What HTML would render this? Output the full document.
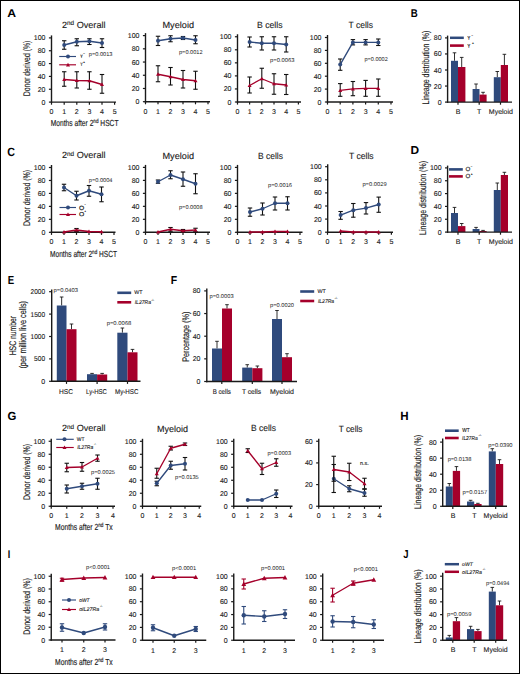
<!DOCTYPE html>
<html><head><meta charset="utf-8"><title>Figure</title>
<style>html,body{margin:0;padding:0;background:#fff;} svg{display:block;} text:not([stroke]):not([font-weight]){stroke:#1a1a1a;stroke-width:0.12px;}</style>
</head><body>
<svg width="520" height="674" viewBox="0 0 520 674" font-family='"Liberation Sans", sans-serif' text-rendering="geometricPrecision">
<rect x="0" y="0" width="520" height="674" fill="#fff"/>
<text transform="translate(7.35,16.65) scale(1.078,1)" font-size="11.34" font-weight="bold" fill="#000">A</text>
<text transform="translate(410.70,16.65) scale(0.853,1)" font-size="11.34" font-weight="bold" fill="#000">B</text>
<text transform="translate(7.21,156.03) scale(0.892,1)" font-size="12.01" font-weight="bold" fill="#000">C</text>
<text transform="translate(410.55,153.55) scale(1.037,1)" font-size="11.48" font-weight="bold" fill="#000">D</text>
<text transform="translate(7.71,283.65) scale(0.828,1)" font-size="11.63" font-weight="bold" fill="#000">E</text>
<text transform="translate(170.65,283.65) scale(0.910,1)" font-size="11.48" font-weight="bold" fill="#000">F</text>
<text transform="translate(7.38,420.34) scale(0.973,1)" font-size="11.72" font-weight="bold" fill="#000">G</text>
<text transform="translate(400.28,420.35) scale(0.970,1)" font-size="11.92" font-weight="bold" fill="#000">H</text>
<text transform="translate(7.75,557.55) scale(0.806,1)" font-size="11.19" font-weight="bold" fill="#000">I</text>
<text transform="translate(403.21,557.74) scale(0.830,1)" font-size="11.47" font-weight="bold" fill="#000">J</text>
<line x1="51.50" y1="102.80" x2="51.50" y2="35.40" stroke="#1a1a1a" stroke-width="1.4" stroke-linecap="butt"/>
<line x1="48.90" y1="102.10" x2="51.50" y2="102.10" stroke="#1a1a1a" stroke-width="1.2" stroke-linecap="butt"/>
<text x="45.50" y="104.60" font-size="7" text-anchor="end" fill="#1a1a1a">0</text>
<line x1="48.90" y1="89.26" x2="51.50" y2="89.26" stroke="#1a1a1a" stroke-width="1.2" stroke-linecap="butt"/>
<text x="45.50" y="91.76" font-size="7" text-anchor="end" fill="#1a1a1a">20</text>
<line x1="48.90" y1="76.42" x2="51.50" y2="76.42" stroke="#1a1a1a" stroke-width="1.2" stroke-linecap="butt"/>
<text x="45.50" y="78.92" font-size="7" text-anchor="end" fill="#1a1a1a">40</text>
<line x1="48.90" y1="63.58" x2="51.50" y2="63.58" stroke="#1a1a1a" stroke-width="1.2" stroke-linecap="butt"/>
<text x="45.50" y="66.08" font-size="7" text-anchor="end" fill="#1a1a1a">60</text>
<line x1="48.90" y1="50.74" x2="51.50" y2="50.74" stroke="#1a1a1a" stroke-width="1.2" stroke-linecap="butt"/>
<text x="45.50" y="53.24" font-size="7" text-anchor="end" fill="#1a1a1a">80</text>
<line x1="48.90" y1="37.90" x2="51.50" y2="37.90" stroke="#1a1a1a" stroke-width="1.2" stroke-linecap="butt"/>
<text x="45.50" y="40.40" font-size="7" text-anchor="end" fill="#1a1a1a">100</text>
<line x1="50.80" y1="102.10" x2="116.00" y2="102.10" stroke="#1a1a1a" stroke-width="1.4" stroke-linecap="butt"/>
<line x1="51.50" y1="102.10" x2="51.50" y2="104.70" stroke="#1a1a1a" stroke-width="1.2" stroke-linecap="butt"/>
<text x="51.50" y="114.00" font-size="7" text-anchor="middle" fill="#1a1a1a">0</text>
<line x1="64.20" y1="102.10" x2="64.20" y2="104.70" stroke="#1a1a1a" stroke-width="1.2" stroke-linecap="butt"/>
<text x="64.20" y="114.00" font-size="7" text-anchor="middle" fill="#1a1a1a">1</text>
<line x1="76.80" y1="102.10" x2="76.80" y2="104.70" stroke="#1a1a1a" stroke-width="1.2" stroke-linecap="butt"/>
<text x="76.80" y="114.00" font-size="7" text-anchor="middle" fill="#1a1a1a">2</text>
<line x1="89.40" y1="102.10" x2="89.40" y2="104.70" stroke="#1a1a1a" stroke-width="1.2" stroke-linecap="butt"/>
<text x="89.40" y="114.00" font-size="7" text-anchor="middle" fill="#1a1a1a">3</text>
<line x1="102.00" y1="102.10" x2="102.00" y2="104.70" stroke="#1a1a1a" stroke-width="1.2" stroke-linecap="butt"/>
<text x="102.00" y="114.00" font-size="7" text-anchor="middle" fill="#1a1a1a">4</text>
<line x1="114.60" y1="102.10" x2="114.60" y2="104.70" stroke="#1a1a1a" stroke-width="1.2" stroke-linecap="butt"/>
<text x="114.60" y="114.00" font-size="7" text-anchor="middle" fill="#1a1a1a">5</text>
<text x="62.00" y="27.98" font-size="9.0" fill="#1a1a1a" textLength="43.50" lengthAdjust="spacingAndGlyphs">2<tspan font-size="6.30" dy="-2.5">nd</tspan><tspan dy="2.5"> Overall</tspan></text>
<line x1="64.20" y1="71.75" x2="64.20" y2="86.25" stroke="#111" stroke-width="1.1" stroke-linecap="butt"/>
<line x1="62.00" y1="71.75" x2="66.40" y2="71.75" stroke="#111" stroke-width="1.1" stroke-linecap="butt"/>
<line x1="62.00" y1="86.25" x2="66.40" y2="86.25" stroke="#111" stroke-width="1.1" stroke-linecap="butt"/>
<line x1="76.80" y1="71.75" x2="76.80" y2="88.00" stroke="#111" stroke-width="1.1" stroke-linecap="butt"/>
<line x1="74.60" y1="71.75" x2="79.00" y2="71.75" stroke="#111" stroke-width="1.1" stroke-linecap="butt"/>
<line x1="74.60" y1="88.00" x2="79.00" y2="88.00" stroke="#111" stroke-width="1.1" stroke-linecap="butt"/>
<line x1="89.40" y1="71.75" x2="89.40" y2="89.25" stroke="#111" stroke-width="1.1" stroke-linecap="butt"/>
<line x1="87.20" y1="71.75" x2="91.60" y2="71.75" stroke="#111" stroke-width="1.1" stroke-linecap="butt"/>
<line x1="87.20" y1="89.25" x2="91.60" y2="89.25" stroke="#111" stroke-width="1.1" stroke-linecap="butt"/>
<line x1="102.00" y1="74.50" x2="102.00" y2="93.25" stroke="#111" stroke-width="1.1" stroke-linecap="butt"/>
<line x1="99.80" y1="74.50" x2="104.20" y2="74.50" stroke="#111" stroke-width="1.1" stroke-linecap="butt"/>
<line x1="99.80" y1="93.25" x2="104.20" y2="93.25" stroke="#111" stroke-width="1.1" stroke-linecap="butt"/>
<path d="M64.20,79.50 L76.80,80.50 L89.40,80.75 L102.00,84.50" fill="none" stroke="#a5002b" stroke-width="1.35" stroke-linejoin="round"/>
<path d="M62.20,81.10 L66.20,81.10 L64.20,77.50 Z" fill="#a5002b"/>
<path d="M74.80,82.10 L78.80,82.10 L76.80,78.50 Z" fill="#a5002b"/>
<path d="M87.40,82.35 L91.40,82.35 L89.40,78.75 Z" fill="#a5002b"/>
<path d="M100.00,86.10 L104.00,86.10 L102.00,82.50 Z" fill="#a5002b"/>
<line x1="64.20" y1="40.75" x2="64.20" y2="49.25" stroke="#111" stroke-width="1.1" stroke-linecap="butt"/>
<line x1="62.00" y1="40.75" x2="66.40" y2="40.75" stroke="#111" stroke-width="1.1" stroke-linecap="butt"/>
<line x1="62.00" y1="49.25" x2="66.40" y2="49.25" stroke="#111" stroke-width="1.1" stroke-linecap="butt"/>
<line x1="76.80" y1="38.75" x2="76.80" y2="45.75" stroke="#111" stroke-width="1.1" stroke-linecap="butt"/>
<line x1="74.60" y1="38.75" x2="79.00" y2="38.75" stroke="#111" stroke-width="1.1" stroke-linecap="butt"/>
<line x1="74.60" y1="45.75" x2="79.00" y2="45.75" stroke="#111" stroke-width="1.1" stroke-linecap="butt"/>
<line x1="89.40" y1="38.75" x2="89.40" y2="44.50" stroke="#111" stroke-width="1.1" stroke-linecap="butt"/>
<line x1="87.20" y1="38.75" x2="91.60" y2="38.75" stroke="#111" stroke-width="1.1" stroke-linecap="butt"/>
<line x1="87.20" y1="44.50" x2="91.60" y2="44.50" stroke="#111" stroke-width="1.1" stroke-linecap="butt"/>
<line x1="102.00" y1="38.75" x2="102.00" y2="47.50" stroke="#111" stroke-width="1.1" stroke-linecap="butt"/>
<line x1="99.80" y1="38.75" x2="104.20" y2="38.75" stroke="#111" stroke-width="1.1" stroke-linecap="butt"/>
<line x1="99.80" y1="47.50" x2="104.20" y2="47.50" stroke="#111" stroke-width="1.1" stroke-linecap="butt"/>
<path d="M64.20,45.00 L76.80,41.75 L89.40,41.25 L102.00,43.00" fill="none" stroke="#2f4a7c" stroke-width="1.35" stroke-linejoin="round"/>
<circle cx="64.20" cy="45.00" r="2.0" fill="#2f4a7c"/>
<circle cx="76.80" cy="41.75" r="2.0" fill="#2f4a7c"/>
<circle cx="89.40" cy="41.25" r="2.0" fill="#2f4a7c"/>
<circle cx="102.00" cy="43.00" r="2.0" fill="#2f4a7c"/>
<text x="88.75" y="56.03" font-size="5.6" text-anchor="start" fill="#1a1a1a" textLength="23.75" lengthAdjust="spacingAndGlyphs" stroke="none">p=0.0013</text>
<line x1="59.20" y1="56.50" x2="76.00" y2="56.50" stroke="#2f4a7c" stroke-width="1.15" stroke-linecap="butt"/>
<circle cx="68.00" cy="56.50" r="2.0" fill="#2f4a7c"/>
<text transform="translate(80.22,57.80) scale(0.770,1)" font-size="4.80" fill="#1a1a1a" stroke="#1a1a1a" stroke-width="0.18">Y</text>
<text transform="translate(83.17,54.40) scale(1.460,1)" font-size="1.83" fill="#1a1a1a" stroke="#1a1a1a" stroke-width="0.25">−</text>
<line x1="59.20" y1="64.80" x2="76.00" y2="64.80" stroke="#a5002b" stroke-width="1.15" stroke-linecap="butt"/>
<path d="M66.00,66.40 L70.00,66.40 L68.00,62.80 Z" fill="#a5002b"/>
<text transform="translate(80.22,65.80) scale(0.726,1)" font-size="5.09" fill="#1a1a1a" stroke="#1a1a1a" stroke-width="0.18">Y</text>
<text transform="translate(83.37,62.70) scale(1.103,1)" font-size="2.43" fill="#1a1a1a" stroke="#1a1a1a" stroke-width="0.25">+</text>
<text x="50.80" y="126.34" font-size="8.8" fill="#1a1a1a" stroke="#1a1a1a" stroke-width="0.15" textLength="67.70" lengthAdjust="spacingAndGlyphs">Months after 2<tspan font-size="6.16" dy="-3.0">nd</tspan><tspan dy="3.0"> HSCT</tspan></text>
<text transform="translate(29.51,96.30) rotate(-90)" font-size="9.6" text-anchor="start" fill="#1a1a1a" textLength="55.60" lengthAdjust="spacingAndGlyphs" stroke="#1a1a1a" stroke-width="0.15">Donor derived (%)</text>
<line x1="145.50" y1="102.40" x2="145.50" y2="33.10" stroke="#1a1a1a" stroke-width="1.4" stroke-linecap="butt"/>
<line x1="142.90" y1="101.70" x2="145.50" y2="101.70" stroke="#1a1a1a" stroke-width="1.2" stroke-linecap="butt"/>
<text x="139.50" y="104.20" font-size="7" text-anchor="end" fill="#1a1a1a">0</text>
<line x1="142.90" y1="88.48" x2="145.50" y2="88.48" stroke="#1a1a1a" stroke-width="1.2" stroke-linecap="butt"/>
<text x="139.50" y="90.98" font-size="7" text-anchor="end" fill="#1a1a1a">20</text>
<line x1="142.90" y1="75.26" x2="145.50" y2="75.26" stroke="#1a1a1a" stroke-width="1.2" stroke-linecap="butt"/>
<text x="139.50" y="77.76" font-size="7" text-anchor="end" fill="#1a1a1a">40</text>
<line x1="142.90" y1="62.04" x2="145.50" y2="62.04" stroke="#1a1a1a" stroke-width="1.2" stroke-linecap="butt"/>
<text x="139.50" y="64.54" font-size="7" text-anchor="end" fill="#1a1a1a">60</text>
<line x1="142.90" y1="48.82" x2="145.50" y2="48.82" stroke="#1a1a1a" stroke-width="1.2" stroke-linecap="butt"/>
<text x="139.50" y="51.32" font-size="7" text-anchor="end" fill="#1a1a1a">80</text>
<line x1="142.90" y1="35.60" x2="145.50" y2="35.60" stroke="#1a1a1a" stroke-width="1.2" stroke-linecap="butt"/>
<text x="139.50" y="38.10" font-size="7" text-anchor="end" fill="#1a1a1a">100</text>
<line x1="144.80" y1="101.70" x2="210.00" y2="101.70" stroke="#1a1a1a" stroke-width="1.4" stroke-linecap="butt"/>
<line x1="145.50" y1="101.70" x2="145.50" y2="104.30" stroke="#1a1a1a" stroke-width="1.2" stroke-linecap="butt"/>
<text x="145.50" y="113.60" font-size="7" text-anchor="middle" fill="#1a1a1a">0</text>
<line x1="158.00" y1="101.70" x2="158.00" y2="104.30" stroke="#1a1a1a" stroke-width="1.2" stroke-linecap="butt"/>
<text x="158.00" y="113.60" font-size="7" text-anchor="middle" fill="#1a1a1a">1</text>
<line x1="170.50" y1="101.70" x2="170.50" y2="104.30" stroke="#1a1a1a" stroke-width="1.2" stroke-linecap="butt"/>
<text x="170.50" y="113.60" font-size="7" text-anchor="middle" fill="#1a1a1a">2</text>
<line x1="183.00" y1="101.70" x2="183.00" y2="104.30" stroke="#1a1a1a" stroke-width="1.2" stroke-linecap="butt"/>
<text x="183.00" y="113.60" font-size="7" text-anchor="middle" fill="#1a1a1a">3</text>
<line x1="195.50" y1="101.70" x2="195.50" y2="104.30" stroke="#1a1a1a" stroke-width="1.2" stroke-linecap="butt"/>
<text x="195.50" y="113.60" font-size="7" text-anchor="middle" fill="#1a1a1a">4</text>
<line x1="208.00" y1="101.70" x2="208.00" y2="104.30" stroke="#1a1a1a" stroke-width="1.2" stroke-linecap="butt"/>
<text x="208.00" y="113.60" font-size="7" text-anchor="middle" fill="#1a1a1a">5</text>
<text x="162.50" y="27.68" font-size="9.0" text-anchor="start" fill="#1a1a1a" textLength="31.50" lengthAdjust="spacingAndGlyphs">Myeloid</text>
<line x1="158.00" y1="65.75" x2="158.00" y2="81.75" stroke="#111" stroke-width="1.1" stroke-linecap="butt"/>
<line x1="155.80" y1="65.75" x2="160.20" y2="65.75" stroke="#111" stroke-width="1.1" stroke-linecap="butt"/>
<line x1="155.80" y1="81.75" x2="160.20" y2="81.75" stroke="#111" stroke-width="1.1" stroke-linecap="butt"/>
<line x1="170.50" y1="67.50" x2="170.50" y2="85.00" stroke="#111" stroke-width="1.1" stroke-linecap="butt"/>
<line x1="168.30" y1="67.50" x2="172.70" y2="67.50" stroke="#111" stroke-width="1.1" stroke-linecap="butt"/>
<line x1="168.30" y1="85.00" x2="172.70" y2="85.00" stroke="#111" stroke-width="1.1" stroke-linecap="butt"/>
<line x1="183.00" y1="70.50" x2="183.00" y2="88.00" stroke="#111" stroke-width="1.1" stroke-linecap="butt"/>
<line x1="180.80" y1="70.50" x2="185.20" y2="70.50" stroke="#111" stroke-width="1.1" stroke-linecap="butt"/>
<line x1="180.80" y1="88.00" x2="185.20" y2="88.00" stroke="#111" stroke-width="1.1" stroke-linecap="butt"/>
<line x1="195.50" y1="71.25" x2="195.50" y2="89.25" stroke="#111" stroke-width="1.1" stroke-linecap="butt"/>
<line x1="193.30" y1="71.25" x2="197.70" y2="71.25" stroke="#111" stroke-width="1.1" stroke-linecap="butt"/>
<line x1="193.30" y1="89.25" x2="197.70" y2="89.25" stroke="#111" stroke-width="1.1" stroke-linecap="butt"/>
<path d="M158.00,74.25 L170.50,76.75 L183.00,79.50 L195.50,80.75" fill="none" stroke="#a5002b" stroke-width="1.35" stroke-linejoin="round"/>
<path d="M156.00,75.85 L160.00,75.85 L158.00,72.25 Z" fill="#a5002b"/>
<path d="M168.50,78.35 L172.50,78.35 L170.50,74.75 Z" fill="#a5002b"/>
<path d="M181.00,81.10 L185.00,81.10 L183.00,77.50 Z" fill="#a5002b"/>
<path d="M193.50,82.35 L197.50,82.35 L195.50,78.75 Z" fill="#a5002b"/>
<line x1="158.00" y1="36.25" x2="158.00" y2="45.50" stroke="#111" stroke-width="1.1" stroke-linecap="butt"/>
<line x1="155.80" y1="36.25" x2="160.20" y2="36.25" stroke="#111" stroke-width="1.1" stroke-linecap="butt"/>
<line x1="155.80" y1="45.50" x2="160.20" y2="45.50" stroke="#111" stroke-width="1.1" stroke-linecap="butt"/>
<line x1="170.50" y1="35.75" x2="170.50" y2="41.75" stroke="#111" stroke-width="1.1" stroke-linecap="butt"/>
<line x1="168.30" y1="35.75" x2="172.70" y2="35.75" stroke="#111" stroke-width="1.1" stroke-linecap="butt"/>
<line x1="168.30" y1="41.75" x2="172.70" y2="41.75" stroke="#111" stroke-width="1.1" stroke-linecap="butt"/>
<line x1="183.00" y1="36.50" x2="183.00" y2="39.50" stroke="#111" stroke-width="1.1" stroke-linecap="butt"/>
<line x1="180.80" y1="36.50" x2="185.20" y2="36.50" stroke="#111" stroke-width="1.1" stroke-linecap="butt"/>
<line x1="180.80" y1="39.50" x2="185.20" y2="39.50" stroke="#111" stroke-width="1.1" stroke-linecap="butt"/>
<line x1="195.50" y1="35.75" x2="195.50" y2="43.75" stroke="#111" stroke-width="1.1" stroke-linecap="butt"/>
<line x1="193.30" y1="35.75" x2="197.70" y2="35.75" stroke="#111" stroke-width="1.1" stroke-linecap="butt"/>
<line x1="193.30" y1="43.75" x2="197.70" y2="43.75" stroke="#111" stroke-width="1.1" stroke-linecap="butt"/>
<path d="M158.00,40.75 L170.50,38.75 L183.00,38.00 L195.50,40.00" fill="none" stroke="#2f4a7c" stroke-width="1.35" stroke-linejoin="round"/>
<circle cx="158.00" cy="40.75" r="2.0" fill="#2f4a7c"/>
<circle cx="170.50" cy="38.75" r="2.0" fill="#2f4a7c"/>
<circle cx="183.00" cy="38.00" r="2.0" fill="#2f4a7c"/>
<circle cx="195.50" cy="40.00" r="2.0" fill="#2f4a7c"/>
<text x="179.00" y="54.03" font-size="5.6" text-anchor="start" fill="#1a1a1a" textLength="23.50" lengthAdjust="spacingAndGlyphs" stroke="none">p=0.0012</text>
<line x1="237.50" y1="102.70" x2="237.50" y2="34.25" stroke="#1a1a1a" stroke-width="1.4" stroke-linecap="butt"/>
<line x1="234.90" y1="102.00" x2="237.50" y2="102.00" stroke="#1a1a1a" stroke-width="1.2" stroke-linecap="butt"/>
<text x="231.50" y="104.50" font-size="7" text-anchor="end" fill="#1a1a1a">0</text>
<line x1="234.90" y1="88.95" x2="237.50" y2="88.95" stroke="#1a1a1a" stroke-width="1.2" stroke-linecap="butt"/>
<text x="231.50" y="91.45" font-size="7" text-anchor="end" fill="#1a1a1a">20</text>
<line x1="234.90" y1="75.90" x2="237.50" y2="75.90" stroke="#1a1a1a" stroke-width="1.2" stroke-linecap="butt"/>
<text x="231.50" y="78.40" font-size="7" text-anchor="end" fill="#1a1a1a">40</text>
<line x1="234.90" y1="62.85" x2="237.50" y2="62.85" stroke="#1a1a1a" stroke-width="1.2" stroke-linecap="butt"/>
<text x="231.50" y="65.35" font-size="7" text-anchor="end" fill="#1a1a1a">60</text>
<line x1="234.90" y1="49.80" x2="237.50" y2="49.80" stroke="#1a1a1a" stroke-width="1.2" stroke-linecap="butt"/>
<text x="231.50" y="52.30" font-size="7" text-anchor="end" fill="#1a1a1a">80</text>
<line x1="234.90" y1="36.75" x2="237.50" y2="36.75" stroke="#1a1a1a" stroke-width="1.2" stroke-linecap="butt"/>
<text x="231.50" y="39.25" font-size="7" text-anchor="end" fill="#1a1a1a">100</text>
<line x1="236.80" y1="102.00" x2="301.00" y2="102.00" stroke="#1a1a1a" stroke-width="1.4" stroke-linecap="butt"/>
<line x1="237.50" y1="102.00" x2="237.50" y2="104.60" stroke="#1a1a1a" stroke-width="1.2" stroke-linecap="butt"/>
<text x="237.50" y="113.90" font-size="7" text-anchor="middle" fill="#1a1a1a">0</text>
<line x1="249.60" y1="102.00" x2="249.60" y2="104.60" stroke="#1a1a1a" stroke-width="1.2" stroke-linecap="butt"/>
<text x="249.60" y="113.90" font-size="7" text-anchor="middle" fill="#1a1a1a">1</text>
<line x1="261.80" y1="102.00" x2="261.80" y2="104.60" stroke="#1a1a1a" stroke-width="1.2" stroke-linecap="butt"/>
<text x="261.80" y="113.90" font-size="7" text-anchor="middle" fill="#1a1a1a">2</text>
<line x1="274.00" y1="102.00" x2="274.00" y2="104.60" stroke="#1a1a1a" stroke-width="1.2" stroke-linecap="butt"/>
<text x="274.00" y="113.90" font-size="7" text-anchor="middle" fill="#1a1a1a">3</text>
<line x1="286.20" y1="102.00" x2="286.20" y2="104.60" stroke="#1a1a1a" stroke-width="1.2" stroke-linecap="butt"/>
<text x="286.20" y="113.90" font-size="7" text-anchor="middle" fill="#1a1a1a">4</text>
<line x1="298.40" y1="102.00" x2="298.40" y2="104.60" stroke="#1a1a1a" stroke-width="1.2" stroke-linecap="butt"/>
<text x="298.40" y="113.90" font-size="7" text-anchor="middle" fill="#1a1a1a">5</text>
<text x="257.00" y="27.68" font-size="9.0" text-anchor="start" fill="#1a1a1a" textLength="25.50" lengthAdjust="spacingAndGlyphs">B cells</text>
<line x1="249.60" y1="77.00" x2="249.60" y2="93.00" stroke="#111" stroke-width="1.1" stroke-linecap="butt"/>
<line x1="247.40" y1="77.00" x2="251.80" y2="77.00" stroke="#111" stroke-width="1.1" stroke-linecap="butt"/>
<line x1="247.40" y1="93.00" x2="251.80" y2="93.00" stroke="#111" stroke-width="1.1" stroke-linecap="butt"/>
<line x1="261.80" y1="68.25" x2="261.80" y2="88.25" stroke="#111" stroke-width="1.1" stroke-linecap="butt"/>
<line x1="259.60" y1="68.25" x2="264.00" y2="68.25" stroke="#111" stroke-width="1.1" stroke-linecap="butt"/>
<line x1="259.60" y1="88.25" x2="264.00" y2="88.25" stroke="#111" stroke-width="1.1" stroke-linecap="butt"/>
<line x1="274.00" y1="73.75" x2="274.00" y2="94.25" stroke="#111" stroke-width="1.1" stroke-linecap="butt"/>
<line x1="271.80" y1="73.75" x2="276.20" y2="73.75" stroke="#111" stroke-width="1.1" stroke-linecap="butt"/>
<line x1="271.80" y1="94.25" x2="276.20" y2="94.25" stroke="#111" stroke-width="1.1" stroke-linecap="butt"/>
<line x1="286.20" y1="74.50" x2="286.20" y2="94.50" stroke="#111" stroke-width="1.1" stroke-linecap="butt"/>
<line x1="284.00" y1="74.50" x2="288.40" y2="74.50" stroke="#111" stroke-width="1.1" stroke-linecap="butt"/>
<line x1="284.00" y1="94.50" x2="288.40" y2="94.50" stroke="#111" stroke-width="1.1" stroke-linecap="butt"/>
<path d="M249.60,85.50 L261.80,78.75 L274.00,83.75 L286.20,85.00" fill="none" stroke="#a5002b" stroke-width="1.35" stroke-linejoin="round"/>
<path d="M247.60,87.10 L251.60,87.10 L249.60,83.50 Z" fill="#a5002b"/>
<path d="M259.80,80.35 L263.80,80.35 L261.80,76.75 Z" fill="#a5002b"/>
<path d="M272.00,85.35 L276.00,85.35 L274.00,81.75 Z" fill="#a5002b"/>
<path d="M284.20,86.60 L288.20,86.60 L286.20,83.00 Z" fill="#a5002b"/>
<line x1="249.60" y1="37.00" x2="249.60" y2="47.00" stroke="#111" stroke-width="1.1" stroke-linecap="butt"/>
<line x1="247.40" y1="37.00" x2="251.80" y2="37.00" stroke="#111" stroke-width="1.1" stroke-linecap="butt"/>
<line x1="247.40" y1="47.00" x2="251.80" y2="47.00" stroke="#111" stroke-width="1.1" stroke-linecap="butt"/>
<line x1="261.80" y1="36.75" x2="261.80" y2="50.00" stroke="#111" stroke-width="1.1" stroke-linecap="butt"/>
<line x1="259.60" y1="36.75" x2="264.00" y2="36.75" stroke="#111" stroke-width="1.1" stroke-linecap="butt"/>
<line x1="259.60" y1="50.00" x2="264.00" y2="50.00" stroke="#111" stroke-width="1.1" stroke-linecap="butt"/>
<line x1="274.00" y1="36.75" x2="274.00" y2="50.00" stroke="#111" stroke-width="1.1" stroke-linecap="butt"/>
<line x1="271.80" y1="36.75" x2="276.20" y2="36.75" stroke="#111" stroke-width="1.1" stroke-linecap="butt"/>
<line x1="271.80" y1="50.00" x2="276.20" y2="50.00" stroke="#111" stroke-width="1.1" stroke-linecap="butt"/>
<line x1="286.20" y1="36.75" x2="286.20" y2="52.00" stroke="#111" stroke-width="1.1" stroke-linecap="butt"/>
<line x1="284.00" y1="36.75" x2="288.40" y2="36.75" stroke="#111" stroke-width="1.1" stroke-linecap="butt"/>
<line x1="284.00" y1="52.00" x2="288.40" y2="52.00" stroke="#111" stroke-width="1.1" stroke-linecap="butt"/>
<path d="M249.60,42.00 L261.80,43.25 L274.00,43.25 L286.20,44.50" fill="none" stroke="#2f4a7c" stroke-width="1.35" stroke-linejoin="round"/>
<circle cx="249.60" cy="42.00" r="2.0" fill="#2f4a7c"/>
<circle cx="261.80" cy="43.25" r="2.0" fill="#2f4a7c"/>
<circle cx="274.00" cy="43.25" r="2.0" fill="#2f4a7c"/>
<circle cx="286.20" cy="44.50" r="2.0" fill="#2f4a7c"/>
<text x="270.00" y="62.03" font-size="5.6" text-anchor="start" fill="#1a1a1a" textLength="24.50" lengthAdjust="spacingAndGlyphs" stroke="none">p=0.0063</text>
<line x1="327.50" y1="102.70" x2="327.50" y2="35.00" stroke="#1a1a1a" stroke-width="1.4" stroke-linecap="butt"/>
<line x1="324.90" y1="102.00" x2="327.50" y2="102.00" stroke="#1a1a1a" stroke-width="1.2" stroke-linecap="butt"/>
<text x="321.50" y="104.50" font-size="7" text-anchor="end" fill="#1a1a1a">0</text>
<line x1="324.90" y1="89.10" x2="327.50" y2="89.10" stroke="#1a1a1a" stroke-width="1.2" stroke-linecap="butt"/>
<text x="321.50" y="91.60" font-size="7" text-anchor="end" fill="#1a1a1a">20</text>
<line x1="324.90" y1="76.20" x2="327.50" y2="76.20" stroke="#1a1a1a" stroke-width="1.2" stroke-linecap="butt"/>
<text x="321.50" y="78.70" font-size="7" text-anchor="end" fill="#1a1a1a">40</text>
<line x1="324.90" y1="63.30" x2="327.50" y2="63.30" stroke="#1a1a1a" stroke-width="1.2" stroke-linecap="butt"/>
<text x="321.50" y="65.80" font-size="7" text-anchor="end" fill="#1a1a1a">60</text>
<line x1="324.90" y1="50.40" x2="327.50" y2="50.40" stroke="#1a1a1a" stroke-width="1.2" stroke-linecap="butt"/>
<text x="321.50" y="52.90" font-size="7" text-anchor="end" fill="#1a1a1a">80</text>
<line x1="324.90" y1="37.50" x2="327.50" y2="37.50" stroke="#1a1a1a" stroke-width="1.2" stroke-linecap="butt"/>
<text x="321.50" y="40.00" font-size="7" text-anchor="end" fill="#1a1a1a">100</text>
<line x1="326.80" y1="102.00" x2="393.00" y2="102.00" stroke="#1a1a1a" stroke-width="1.4" stroke-linecap="butt"/>
<line x1="327.50" y1="102.00" x2="327.50" y2="104.60" stroke="#1a1a1a" stroke-width="1.2" stroke-linecap="butt"/>
<text x="327.50" y="113.90" font-size="7" text-anchor="middle" fill="#1a1a1a">0</text>
<line x1="340.20" y1="102.00" x2="340.20" y2="104.60" stroke="#1a1a1a" stroke-width="1.2" stroke-linecap="butt"/>
<text x="340.20" y="113.90" font-size="7" text-anchor="middle" fill="#1a1a1a">1</text>
<line x1="352.90" y1="102.00" x2="352.90" y2="104.60" stroke="#1a1a1a" stroke-width="1.2" stroke-linecap="butt"/>
<text x="352.90" y="113.90" font-size="7" text-anchor="middle" fill="#1a1a1a">2</text>
<line x1="365.60" y1="102.00" x2="365.60" y2="104.60" stroke="#1a1a1a" stroke-width="1.2" stroke-linecap="butt"/>
<text x="365.60" y="113.90" font-size="7" text-anchor="middle" fill="#1a1a1a">3</text>
<line x1="378.30" y1="102.00" x2="378.30" y2="104.60" stroke="#1a1a1a" stroke-width="1.2" stroke-linecap="butt"/>
<text x="378.30" y="113.90" font-size="7" text-anchor="middle" fill="#1a1a1a">4</text>
<line x1="391.00" y1="102.00" x2="391.00" y2="104.60" stroke="#1a1a1a" stroke-width="1.2" stroke-linecap="butt"/>
<text x="391.00" y="113.90" font-size="7" text-anchor="middle" fill="#1a1a1a">5</text>
<text x="348.60" y="28.08" font-size="9.0" text-anchor="start" fill="#1a1a1a" textLength="24.40" lengthAdjust="spacingAndGlyphs">T cells</text>
<line x1="340.20" y1="83.60" x2="340.20" y2="96.30" stroke="#111" stroke-width="1.1" stroke-linecap="butt"/>
<line x1="338.00" y1="83.60" x2="342.40" y2="83.60" stroke="#111" stroke-width="1.1" stroke-linecap="butt"/>
<line x1="338.00" y1="96.30" x2="342.40" y2="96.30" stroke="#111" stroke-width="1.1" stroke-linecap="butt"/>
<line x1="352.90" y1="81.50" x2="352.90" y2="95.70" stroke="#111" stroke-width="1.1" stroke-linecap="butt"/>
<line x1="350.70" y1="81.50" x2="355.10" y2="81.50" stroke="#111" stroke-width="1.1" stroke-linecap="butt"/>
<line x1="350.70" y1="95.70" x2="355.10" y2="95.70" stroke="#111" stroke-width="1.1" stroke-linecap="butt"/>
<line x1="365.60" y1="80.40" x2="365.60" y2="96.30" stroke="#111" stroke-width="1.1" stroke-linecap="butt"/>
<line x1="363.40" y1="80.40" x2="367.80" y2="80.40" stroke="#111" stroke-width="1.1" stroke-linecap="butt"/>
<line x1="363.40" y1="96.30" x2="367.80" y2="96.30" stroke="#111" stroke-width="1.1" stroke-linecap="butt"/>
<line x1="378.30" y1="79.00" x2="378.30" y2="96.30" stroke="#111" stroke-width="1.1" stroke-linecap="butt"/>
<line x1="376.10" y1="79.00" x2="380.50" y2="79.00" stroke="#111" stroke-width="1.1" stroke-linecap="butt"/>
<line x1="376.10" y1="96.30" x2="380.50" y2="96.30" stroke="#111" stroke-width="1.1" stroke-linecap="butt"/>
<path d="M340.20,90.40 L352.90,88.90 L365.60,88.30 L378.30,88.30" fill="none" stroke="#a5002b" stroke-width="1.35" stroke-linejoin="round"/>
<path d="M338.20,92.00 L342.20,92.00 L340.20,88.40 Z" fill="#a5002b"/>
<path d="M350.90,90.50 L354.90,90.50 L352.90,86.90 Z" fill="#a5002b"/>
<path d="M363.60,89.90 L367.60,89.90 L365.60,86.30 Z" fill="#a5002b"/>
<path d="M376.30,89.90 L380.30,89.90 L378.30,86.30 Z" fill="#a5002b"/>
<line x1="340.20" y1="59.00" x2="340.20" y2="70.30" stroke="#111" stroke-width="1.1" stroke-linecap="butt"/>
<line x1="338.00" y1="59.00" x2="342.40" y2="59.00" stroke="#111" stroke-width="1.1" stroke-linecap="butt"/>
<line x1="338.00" y1="70.30" x2="342.40" y2="70.30" stroke="#111" stroke-width="1.1" stroke-linecap="butt"/>
<line x1="352.90" y1="39.60" x2="352.90" y2="44.90" stroke="#111" stroke-width="1.1" stroke-linecap="butt"/>
<line x1="350.70" y1="39.60" x2="355.10" y2="39.60" stroke="#111" stroke-width="1.1" stroke-linecap="butt"/>
<line x1="350.70" y1="44.90" x2="355.10" y2="44.90" stroke="#111" stroke-width="1.1" stroke-linecap="butt"/>
<line x1="365.60" y1="39.60" x2="365.60" y2="44.90" stroke="#111" stroke-width="1.1" stroke-linecap="butt"/>
<line x1="363.40" y1="39.60" x2="367.80" y2="39.60" stroke="#111" stroke-width="1.1" stroke-linecap="butt"/>
<line x1="363.40" y1="44.90" x2="367.80" y2="44.90" stroke="#111" stroke-width="1.1" stroke-linecap="butt"/>
<line x1="378.30" y1="39.00" x2="378.30" y2="45.50" stroke="#111" stroke-width="1.1" stroke-linecap="butt"/>
<line x1="376.10" y1="39.00" x2="380.50" y2="39.00" stroke="#111" stroke-width="1.1" stroke-linecap="butt"/>
<line x1="376.10" y1="45.50" x2="380.50" y2="45.50" stroke="#111" stroke-width="1.1" stroke-linecap="butt"/>
<path d="M340.20,64.60 L352.90,42.40 L365.60,42.40 L378.30,42.40" fill="none" stroke="#2f4a7c" stroke-width="1.35" stroke-linejoin="round"/>
<circle cx="340.20" cy="64.60" r="2.0" fill="#2f4a7c"/>
<circle cx="352.90" cy="42.40" r="2.0" fill="#2f4a7c"/>
<circle cx="365.60" cy="42.40" r="2.0" fill="#2f4a7c"/>
<circle cx="378.30" cy="42.40" r="2.0" fill="#2f4a7c"/>
<text x="364.50" y="61.03" font-size="5.6" text-anchor="start" fill="#1a1a1a" textLength="23.30" lengthAdjust="spacingAndGlyphs" stroke="none">p=0.0002</text>
<line x1="51.50" y1="233.00" x2="51.50" y2="165.00" stroke="#1a1a1a" stroke-width="1.4" stroke-linecap="butt"/>
<line x1="48.90" y1="232.30" x2="51.50" y2="232.30" stroke="#1a1a1a" stroke-width="1.2" stroke-linecap="butt"/>
<text x="45.50" y="234.80" font-size="7" text-anchor="end" fill="#1a1a1a">0</text>
<line x1="48.90" y1="219.34" x2="51.50" y2="219.34" stroke="#1a1a1a" stroke-width="1.2" stroke-linecap="butt"/>
<text x="45.50" y="221.84" font-size="7" text-anchor="end" fill="#1a1a1a">20</text>
<line x1="48.90" y1="206.38" x2="51.50" y2="206.38" stroke="#1a1a1a" stroke-width="1.2" stroke-linecap="butt"/>
<text x="45.50" y="208.88" font-size="7" text-anchor="end" fill="#1a1a1a">40</text>
<line x1="48.90" y1="193.42" x2="51.50" y2="193.42" stroke="#1a1a1a" stroke-width="1.2" stroke-linecap="butt"/>
<text x="45.50" y="195.92" font-size="7" text-anchor="end" fill="#1a1a1a">60</text>
<line x1="48.90" y1="180.46" x2="51.50" y2="180.46" stroke="#1a1a1a" stroke-width="1.2" stroke-linecap="butt"/>
<text x="45.50" y="182.96" font-size="7" text-anchor="end" fill="#1a1a1a">80</text>
<line x1="48.90" y1="167.50" x2="51.50" y2="167.50" stroke="#1a1a1a" stroke-width="1.2" stroke-linecap="butt"/>
<text x="45.50" y="170.00" font-size="7" text-anchor="end" fill="#1a1a1a">100</text>
<line x1="50.80" y1="232.30" x2="115.50" y2="232.30" stroke="#1a1a1a" stroke-width="1.4" stroke-linecap="butt"/>
<line x1="51.50" y1="232.30" x2="51.50" y2="234.90" stroke="#1a1a1a" stroke-width="1.2" stroke-linecap="butt"/>
<text x="51.50" y="244.20" font-size="7" text-anchor="middle" fill="#1a1a1a">0</text>
<line x1="64.00" y1="232.30" x2="64.00" y2="234.90" stroke="#1a1a1a" stroke-width="1.2" stroke-linecap="butt"/>
<text x="64.00" y="244.20" font-size="7" text-anchor="middle" fill="#1a1a1a">1</text>
<line x1="76.50" y1="232.30" x2="76.50" y2="234.90" stroke="#1a1a1a" stroke-width="1.2" stroke-linecap="butt"/>
<text x="76.50" y="244.20" font-size="7" text-anchor="middle" fill="#1a1a1a">2</text>
<line x1="89.00" y1="232.30" x2="89.00" y2="234.90" stroke="#1a1a1a" stroke-width="1.2" stroke-linecap="butt"/>
<text x="89.00" y="244.20" font-size="7" text-anchor="middle" fill="#1a1a1a">3</text>
<line x1="101.50" y1="232.30" x2="101.50" y2="234.90" stroke="#1a1a1a" stroke-width="1.2" stroke-linecap="butt"/>
<text x="101.50" y="244.20" font-size="7" text-anchor="middle" fill="#1a1a1a">4</text>
<line x1="114.00" y1="232.30" x2="114.00" y2="234.90" stroke="#1a1a1a" stroke-width="1.2" stroke-linecap="butt"/>
<text x="114.00" y="244.20" font-size="7" text-anchor="middle" fill="#1a1a1a">5</text>
<text x="62.00" y="158.28" font-size="9.0" fill="#1a1a1a" textLength="43.50" lengthAdjust="spacingAndGlyphs">2<tspan font-size="6.30" dy="-2.5">nd</tspan><tspan dy="2.5"> Overall</tspan></text>
<line x1="76.50" y1="228.50" x2="76.50" y2="231.50" stroke="#111" stroke-width="1.1" stroke-linecap="butt"/>
<line x1="74.30" y1="228.50" x2="78.70" y2="228.50" stroke="#111" stroke-width="1.1" stroke-linecap="butt"/>
<line x1="74.30" y1="231.50" x2="78.70" y2="231.50" stroke="#111" stroke-width="1.1" stroke-linecap="butt"/>
<path d="M64.00,232.00 L76.50,230.00 L89.00,231.50 L101.50,231.75" fill="none" stroke="#a5002b" stroke-width="1.35" stroke-linejoin="round"/>
<path d="M62.00,233.60 L66.00,233.60 L64.00,230.00 Z" fill="#a5002b"/>
<path d="M74.50,231.60 L78.50,231.60 L76.50,228.00 Z" fill="#a5002b"/>
<path d="M87.00,233.10 L91.00,233.10 L89.00,229.50 Z" fill="#a5002b"/>
<path d="M99.50,233.35 L103.50,233.35 L101.50,229.75 Z" fill="#a5002b"/>
<line x1="64.00" y1="184.25" x2="64.00" y2="190.75" stroke="#111" stroke-width="1.1" stroke-linecap="butt"/>
<line x1="61.80" y1="184.25" x2="66.20" y2="184.25" stroke="#111" stroke-width="1.1" stroke-linecap="butt"/>
<line x1="61.80" y1="190.75" x2="66.20" y2="190.75" stroke="#111" stroke-width="1.1" stroke-linecap="butt"/>
<line x1="76.50" y1="191.25" x2="76.50" y2="200.00" stroke="#111" stroke-width="1.1" stroke-linecap="butt"/>
<line x1="74.30" y1="191.25" x2="78.70" y2="191.25" stroke="#111" stroke-width="1.1" stroke-linecap="butt"/>
<line x1="74.30" y1="200.00" x2="78.70" y2="200.00" stroke="#111" stroke-width="1.1" stroke-linecap="butt"/>
<line x1="89.00" y1="185.50" x2="89.00" y2="196.25" stroke="#111" stroke-width="1.1" stroke-linecap="butt"/>
<line x1="86.80" y1="185.50" x2="91.20" y2="185.50" stroke="#111" stroke-width="1.1" stroke-linecap="butt"/>
<line x1="86.80" y1="196.25" x2="91.20" y2="196.25" stroke="#111" stroke-width="1.1" stroke-linecap="butt"/>
<line x1="101.50" y1="187.00" x2="101.50" y2="201.75" stroke="#111" stroke-width="1.1" stroke-linecap="butt"/>
<line x1="99.30" y1="187.00" x2="103.70" y2="187.00" stroke="#111" stroke-width="1.1" stroke-linecap="butt"/>
<line x1="99.30" y1="201.75" x2="103.70" y2="201.75" stroke="#111" stroke-width="1.1" stroke-linecap="butt"/>
<path d="M64.00,187.50 L76.50,195.75 L89.00,190.75 L101.50,194.25" fill="none" stroke="#2f4a7c" stroke-width="1.35" stroke-linejoin="round"/>
<circle cx="64.00" cy="187.50" r="2.0" fill="#2f4a7c"/>
<circle cx="76.50" cy="195.75" r="2.0" fill="#2f4a7c"/>
<circle cx="89.00" cy="190.75" r="2.0" fill="#2f4a7c"/>
<circle cx="101.50" cy="194.25" r="2.0" fill="#2f4a7c"/>
<text x="88.75" y="182.03" font-size="5.6" text-anchor="start" fill="#1a1a1a" textLength="23.75" lengthAdjust="spacingAndGlyphs" stroke="none">p=0.0004</text>
<line x1="59.50" y1="207.50" x2="76.00" y2="207.50" stroke="#2f4a7c" stroke-width="1.15" stroke-linecap="butt"/>
<circle cx="68.00" cy="207.50" r="2.0" fill="#2f4a7c"/>
<text transform="translate(78.98,209.60) scale(1.094,1)" font-size="6.16" fill="#1a1a1a" stroke="#1a1a1a" stroke-width="0.18">O</text>
<text transform="translate(84.60,205.20) scale(1.123,1)" font-size="1.83" fill="#1a1a1a" stroke="#1a1a1a" stroke-width="0.25">−</text>
<line x1="59.50" y1="214.50" x2="76.00" y2="214.50" stroke="#a5002b" stroke-width="1.15" stroke-linecap="butt"/>
<path d="M66.00,216.10 L70.00,216.10 L68.00,212.50 Z" fill="#a5002b"/>
<text transform="translate(78.98,216.20) scale(1.206,1)" font-size="5.59" fill="#1a1a1a" stroke="#1a1a1a" stroke-width="0.18">O</text>
<text transform="translate(84.58,212.40) scale(1.097,1)" font-size="2.25" fill="#1a1a1a" stroke="#1a1a1a" stroke-width="0.25">+</text>
<text x="50.00" y="256.54" font-size="8.8" fill="#1a1a1a" stroke="#1a1a1a" stroke-width="0.15" textLength="67.00" lengthAdjust="spacingAndGlyphs">Months after 2<tspan font-size="6.16" dy="-3.0">nd</tspan><tspan dy="3.0"> HSCT</tspan></text>
<text transform="translate(29.91,226.00) rotate(-90)" font-size="9.6" text-anchor="start" fill="#1a1a1a" textLength="56.00" lengthAdjust="spacingAndGlyphs" stroke="#1a1a1a" stroke-width="0.15">Donor derived (%)</text>
<line x1="145.50" y1="233.00" x2="145.50" y2="164.90" stroke="#1a1a1a" stroke-width="1.4" stroke-linecap="butt"/>
<line x1="142.90" y1="232.30" x2="145.50" y2="232.30" stroke="#1a1a1a" stroke-width="1.2" stroke-linecap="butt"/>
<text x="139.50" y="234.80" font-size="7" text-anchor="end" fill="#1a1a1a">0</text>
<line x1="142.90" y1="219.32" x2="145.50" y2="219.32" stroke="#1a1a1a" stroke-width="1.2" stroke-linecap="butt"/>
<text x="139.50" y="221.82" font-size="7" text-anchor="end" fill="#1a1a1a">20</text>
<line x1="142.90" y1="206.34" x2="145.50" y2="206.34" stroke="#1a1a1a" stroke-width="1.2" stroke-linecap="butt"/>
<text x="139.50" y="208.84" font-size="7" text-anchor="end" fill="#1a1a1a">40</text>
<line x1="142.90" y1="193.36" x2="145.50" y2="193.36" stroke="#1a1a1a" stroke-width="1.2" stroke-linecap="butt"/>
<text x="139.50" y="195.86" font-size="7" text-anchor="end" fill="#1a1a1a">60</text>
<line x1="142.90" y1="180.38" x2="145.50" y2="180.38" stroke="#1a1a1a" stroke-width="1.2" stroke-linecap="butt"/>
<text x="139.50" y="182.88" font-size="7" text-anchor="end" fill="#1a1a1a">80</text>
<line x1="142.90" y1="167.40" x2="145.50" y2="167.40" stroke="#1a1a1a" stroke-width="1.2" stroke-linecap="butt"/>
<text x="139.50" y="169.90" font-size="7" text-anchor="end" fill="#1a1a1a">100</text>
<line x1="144.80" y1="232.30" x2="210.00" y2="232.30" stroke="#1a1a1a" stroke-width="1.4" stroke-linecap="butt"/>
<line x1="145.50" y1="232.30" x2="145.50" y2="234.90" stroke="#1a1a1a" stroke-width="1.2" stroke-linecap="butt"/>
<text x="145.50" y="244.20" font-size="7" text-anchor="middle" fill="#1a1a1a">0</text>
<line x1="158.00" y1="232.30" x2="158.00" y2="234.90" stroke="#1a1a1a" stroke-width="1.2" stroke-linecap="butt"/>
<text x="158.00" y="244.20" font-size="7" text-anchor="middle" fill="#1a1a1a">1</text>
<line x1="170.50" y1="232.30" x2="170.50" y2="234.90" stroke="#1a1a1a" stroke-width="1.2" stroke-linecap="butt"/>
<text x="170.50" y="244.20" font-size="7" text-anchor="middle" fill="#1a1a1a">2</text>
<line x1="183.00" y1="232.30" x2="183.00" y2="234.90" stroke="#1a1a1a" stroke-width="1.2" stroke-linecap="butt"/>
<text x="183.00" y="244.20" font-size="7" text-anchor="middle" fill="#1a1a1a">3</text>
<line x1="195.50" y1="232.30" x2="195.50" y2="234.90" stroke="#1a1a1a" stroke-width="1.2" stroke-linecap="butt"/>
<text x="195.50" y="244.20" font-size="7" text-anchor="middle" fill="#1a1a1a">4</text>
<line x1="208.00" y1="232.30" x2="208.00" y2="234.90" stroke="#1a1a1a" stroke-width="1.2" stroke-linecap="butt"/>
<text x="208.00" y="244.20" font-size="7" text-anchor="middle" fill="#1a1a1a">5</text>
<text x="162.50" y="159.08" font-size="9.0" text-anchor="start" fill="#1a1a1a" textLength="31.50" lengthAdjust="spacingAndGlyphs">Myeloid</text>
<line x1="170.50" y1="227.50" x2="170.50" y2="231.25" stroke="#111" stroke-width="1.1" stroke-linecap="butt"/>
<line x1="168.30" y1="227.50" x2="172.70" y2="227.50" stroke="#111" stroke-width="1.1" stroke-linecap="butt"/>
<line x1="168.30" y1="231.25" x2="172.70" y2="231.25" stroke="#111" stroke-width="1.1" stroke-linecap="butt"/>
<line x1="183.00" y1="229.50" x2="183.00" y2="231.50" stroke="#111" stroke-width="1.1" stroke-linecap="butt"/>
<line x1="180.80" y1="229.50" x2="185.20" y2="229.50" stroke="#111" stroke-width="1.1" stroke-linecap="butt"/>
<line x1="180.80" y1="231.50" x2="185.20" y2="231.50" stroke="#111" stroke-width="1.1" stroke-linecap="butt"/>
<line x1="195.50" y1="228.25" x2="195.50" y2="231.75" stroke="#111" stroke-width="1.1" stroke-linecap="butt"/>
<line x1="193.30" y1="228.25" x2="197.70" y2="228.25" stroke="#111" stroke-width="1.1" stroke-linecap="butt"/>
<line x1="193.30" y1="231.75" x2="197.70" y2="231.75" stroke="#111" stroke-width="1.1" stroke-linecap="butt"/>
<path d="M158.00,232.00 L170.50,229.25 L183.00,230.75 L195.50,230.00" fill="none" stroke="#a5002b" stroke-width="1.35" stroke-linejoin="round"/>
<path d="M156.00,233.60 L160.00,233.60 L158.00,230.00 Z" fill="#a5002b"/>
<path d="M168.50,230.85 L172.50,230.85 L170.50,227.25 Z" fill="#a5002b"/>
<path d="M181.00,232.35 L185.00,232.35 L183.00,228.75 Z" fill="#a5002b"/>
<path d="M193.50,231.60 L197.50,231.60 L195.50,228.00 Z" fill="#a5002b"/>
<line x1="158.00" y1="180.00" x2="158.00" y2="183.25" stroke="#111" stroke-width="1.1" stroke-linecap="butt"/>
<line x1="155.80" y1="180.00" x2="160.20" y2="180.00" stroke="#111" stroke-width="1.1" stroke-linecap="butt"/>
<line x1="155.80" y1="183.25" x2="160.20" y2="183.25" stroke="#111" stroke-width="1.1" stroke-linecap="butt"/>
<line x1="170.50" y1="170.75" x2="170.50" y2="178.75" stroke="#111" stroke-width="1.1" stroke-linecap="butt"/>
<line x1="168.30" y1="170.75" x2="172.70" y2="170.75" stroke="#111" stroke-width="1.1" stroke-linecap="butt"/>
<line x1="168.30" y1="178.75" x2="172.70" y2="178.75" stroke="#111" stroke-width="1.1" stroke-linecap="butt"/>
<line x1="183.00" y1="172.00" x2="183.00" y2="186.25" stroke="#111" stroke-width="1.1" stroke-linecap="butt"/>
<line x1="180.80" y1="172.00" x2="185.20" y2="172.00" stroke="#111" stroke-width="1.1" stroke-linecap="butt"/>
<line x1="180.80" y1="186.25" x2="185.20" y2="186.25" stroke="#111" stroke-width="1.1" stroke-linecap="butt"/>
<line x1="195.50" y1="173.75" x2="195.50" y2="193.75" stroke="#111" stroke-width="1.1" stroke-linecap="butt"/>
<line x1="193.30" y1="173.75" x2="197.70" y2="173.75" stroke="#111" stroke-width="1.1" stroke-linecap="butt"/>
<line x1="193.30" y1="193.75" x2="197.70" y2="193.75" stroke="#111" stroke-width="1.1" stroke-linecap="butt"/>
<path d="M158.00,181.75 L170.50,175.00 L183.00,179.25 L195.50,183.75" fill="none" stroke="#2f4a7c" stroke-width="1.35" stroke-linejoin="round"/>
<circle cx="158.00" cy="181.75" r="2.0" fill="#2f4a7c"/>
<circle cx="170.50" cy="175.00" r="2.0" fill="#2f4a7c"/>
<circle cx="183.00" cy="179.25" r="2.0" fill="#2f4a7c"/>
<circle cx="195.50" cy="183.75" r="2.0" fill="#2f4a7c"/>
<text x="179.00" y="208.53" font-size="5.6" text-anchor="start" fill="#1a1a1a" textLength="23.50" lengthAdjust="spacingAndGlyphs" stroke="none">p=0.0008</text>
<line x1="237.50" y1="233.00" x2="237.50" y2="164.90" stroke="#1a1a1a" stroke-width="1.4" stroke-linecap="butt"/>
<line x1="234.90" y1="232.30" x2="237.50" y2="232.30" stroke="#1a1a1a" stroke-width="1.2" stroke-linecap="butt"/>
<text x="231.50" y="234.80" font-size="7" text-anchor="end" fill="#1a1a1a">0</text>
<line x1="234.90" y1="219.32" x2="237.50" y2="219.32" stroke="#1a1a1a" stroke-width="1.2" stroke-linecap="butt"/>
<text x="231.50" y="221.82" font-size="7" text-anchor="end" fill="#1a1a1a">20</text>
<line x1="234.90" y1="206.34" x2="237.50" y2="206.34" stroke="#1a1a1a" stroke-width="1.2" stroke-linecap="butt"/>
<text x="231.50" y="208.84" font-size="7" text-anchor="end" fill="#1a1a1a">40</text>
<line x1="234.90" y1="193.36" x2="237.50" y2="193.36" stroke="#1a1a1a" stroke-width="1.2" stroke-linecap="butt"/>
<text x="231.50" y="195.86" font-size="7" text-anchor="end" fill="#1a1a1a">60</text>
<line x1="234.90" y1="180.38" x2="237.50" y2="180.38" stroke="#1a1a1a" stroke-width="1.2" stroke-linecap="butt"/>
<text x="231.50" y="182.88" font-size="7" text-anchor="end" fill="#1a1a1a">80</text>
<line x1="234.90" y1="167.40" x2="237.50" y2="167.40" stroke="#1a1a1a" stroke-width="1.2" stroke-linecap="butt"/>
<text x="231.50" y="169.90" font-size="7" text-anchor="end" fill="#1a1a1a">100</text>
<line x1="236.80" y1="232.30" x2="302.50" y2="232.30" stroke="#1a1a1a" stroke-width="1.4" stroke-linecap="butt"/>
<line x1="237.50" y1="232.30" x2="237.50" y2="234.90" stroke="#1a1a1a" stroke-width="1.2" stroke-linecap="butt"/>
<text x="237.50" y="244.20" font-size="7" text-anchor="middle" fill="#1a1a1a">0</text>
<line x1="250.00" y1="232.30" x2="250.00" y2="234.90" stroke="#1a1a1a" stroke-width="1.2" stroke-linecap="butt"/>
<text x="250.00" y="244.20" font-size="7" text-anchor="middle" fill="#1a1a1a">1</text>
<line x1="262.50" y1="232.30" x2="262.50" y2="234.90" stroke="#1a1a1a" stroke-width="1.2" stroke-linecap="butt"/>
<text x="262.50" y="244.20" font-size="7" text-anchor="middle" fill="#1a1a1a">2</text>
<line x1="275.00" y1="232.30" x2="275.00" y2="234.90" stroke="#1a1a1a" stroke-width="1.2" stroke-linecap="butt"/>
<text x="275.00" y="244.20" font-size="7" text-anchor="middle" fill="#1a1a1a">3</text>
<line x1="287.50" y1="232.30" x2="287.50" y2="234.90" stroke="#1a1a1a" stroke-width="1.2" stroke-linecap="butt"/>
<text x="287.50" y="244.20" font-size="7" text-anchor="middle" fill="#1a1a1a">4</text>
<line x1="300.00" y1="232.30" x2="300.00" y2="234.90" stroke="#1a1a1a" stroke-width="1.2" stroke-linecap="butt"/>
<text x="300.00" y="244.20" font-size="7" text-anchor="middle" fill="#1a1a1a">5</text>
<text x="258.00" y="159.08" font-size="9.0" text-anchor="start" fill="#1a1a1a" textLength="25.00" lengthAdjust="spacingAndGlyphs">B cells</text>
<path d="M250.00,232.00 L262.50,232.00 L275.00,231.50 L287.50,231.50" fill="none" stroke="#a5002b" stroke-width="1.35" stroke-linejoin="round"/>
<path d="M248.00,233.60 L252.00,233.60 L250.00,230.00 Z" fill="#a5002b"/>
<path d="M260.50,233.60 L264.50,233.60 L262.50,230.00 Z" fill="#a5002b"/>
<path d="M273.00,233.10 L277.00,233.10 L275.00,229.50 Z" fill="#a5002b"/>
<path d="M285.50,233.10 L289.50,233.10 L287.50,229.50 Z" fill="#a5002b"/>
<line x1="250.00" y1="208.00" x2="250.00" y2="216.25" stroke="#111" stroke-width="1.1" stroke-linecap="butt"/>
<line x1="247.80" y1="208.00" x2="252.20" y2="208.00" stroke="#111" stroke-width="1.1" stroke-linecap="butt"/>
<line x1="247.80" y1="216.25" x2="252.20" y2="216.25" stroke="#111" stroke-width="1.1" stroke-linecap="butt"/>
<line x1="262.50" y1="203.00" x2="262.50" y2="215.00" stroke="#111" stroke-width="1.1" stroke-linecap="butt"/>
<line x1="260.30" y1="203.00" x2="264.70" y2="203.00" stroke="#111" stroke-width="1.1" stroke-linecap="butt"/>
<line x1="260.30" y1="215.00" x2="264.70" y2="215.00" stroke="#111" stroke-width="1.1" stroke-linecap="butt"/>
<line x1="275.00" y1="197.00" x2="275.00" y2="210.00" stroke="#111" stroke-width="1.1" stroke-linecap="butt"/>
<line x1="272.80" y1="197.00" x2="277.20" y2="197.00" stroke="#111" stroke-width="1.1" stroke-linecap="butt"/>
<line x1="272.80" y1="210.00" x2="277.20" y2="210.00" stroke="#111" stroke-width="1.1" stroke-linecap="butt"/>
<line x1="287.50" y1="196.75" x2="287.50" y2="210.00" stroke="#111" stroke-width="1.1" stroke-linecap="butt"/>
<line x1="285.30" y1="196.75" x2="289.70" y2="196.75" stroke="#111" stroke-width="1.1" stroke-linecap="butt"/>
<line x1="285.30" y1="210.00" x2="289.70" y2="210.00" stroke="#111" stroke-width="1.1" stroke-linecap="butt"/>
<path d="M250.00,212.00 L262.50,208.75 L275.00,203.25 L287.50,203.25" fill="none" stroke="#2f4a7c" stroke-width="1.35" stroke-linejoin="round"/>
<circle cx="250.00" cy="212.00" r="2.0" fill="#2f4a7c"/>
<circle cx="262.50" cy="208.75" r="2.0" fill="#2f4a7c"/>
<circle cx="275.00" cy="203.25" r="2.0" fill="#2f4a7c"/>
<circle cx="287.50" cy="203.25" r="2.0" fill="#2f4a7c"/>
<text x="268.00" y="186.53" font-size="5.6" text-anchor="start" fill="#1a1a1a" textLength="24.00" lengthAdjust="spacingAndGlyphs" stroke="none">p=0.0016</text>
<line x1="327.70" y1="232.90" x2="327.70" y2="164.20" stroke="#1a1a1a" stroke-width="1.4" stroke-linecap="butt"/>
<line x1="325.10" y1="232.20" x2="327.70" y2="232.20" stroke="#1a1a1a" stroke-width="1.2" stroke-linecap="butt"/>
<text x="321.70" y="234.70" font-size="7" text-anchor="end" fill="#1a1a1a">0</text>
<line x1="325.10" y1="219.10" x2="327.70" y2="219.10" stroke="#1a1a1a" stroke-width="1.2" stroke-linecap="butt"/>
<text x="321.70" y="221.60" font-size="7" text-anchor="end" fill="#1a1a1a">20</text>
<line x1="325.10" y1="206.00" x2="327.70" y2="206.00" stroke="#1a1a1a" stroke-width="1.2" stroke-linecap="butt"/>
<text x="321.70" y="208.50" font-size="7" text-anchor="end" fill="#1a1a1a">40</text>
<line x1="325.10" y1="192.90" x2="327.70" y2="192.90" stroke="#1a1a1a" stroke-width="1.2" stroke-linecap="butt"/>
<text x="321.70" y="195.40" font-size="7" text-anchor="end" fill="#1a1a1a">60</text>
<line x1="325.10" y1="179.80" x2="327.70" y2="179.80" stroke="#1a1a1a" stroke-width="1.2" stroke-linecap="butt"/>
<text x="321.70" y="182.30" font-size="7" text-anchor="end" fill="#1a1a1a">80</text>
<line x1="325.10" y1="166.70" x2="327.70" y2="166.70" stroke="#1a1a1a" stroke-width="1.2" stroke-linecap="butt"/>
<text x="321.70" y="169.20" font-size="7" text-anchor="end" fill="#1a1a1a">100</text>
<line x1="327.00" y1="232.20" x2="393.00" y2="232.20" stroke="#1a1a1a" stroke-width="1.4" stroke-linecap="butt"/>
<line x1="327.50" y1="232.20" x2="327.50" y2="234.80" stroke="#1a1a1a" stroke-width="1.2" stroke-linecap="butt"/>
<text x="327.50" y="244.10" font-size="7" text-anchor="middle" fill="#1a1a1a">0</text>
<line x1="340.60" y1="232.20" x2="340.60" y2="234.80" stroke="#1a1a1a" stroke-width="1.2" stroke-linecap="butt"/>
<text x="340.60" y="244.10" font-size="7" text-anchor="middle" fill="#1a1a1a">1</text>
<line x1="353.30" y1="232.20" x2="353.30" y2="234.80" stroke="#1a1a1a" stroke-width="1.2" stroke-linecap="butt"/>
<text x="353.30" y="244.10" font-size="7" text-anchor="middle" fill="#1a1a1a">2</text>
<line x1="366.00" y1="232.20" x2="366.00" y2="234.80" stroke="#1a1a1a" stroke-width="1.2" stroke-linecap="butt"/>
<text x="366.00" y="244.10" font-size="7" text-anchor="middle" fill="#1a1a1a">3</text>
<line x1="378.70" y1="232.20" x2="378.70" y2="234.80" stroke="#1a1a1a" stroke-width="1.2" stroke-linecap="butt"/>
<text x="378.70" y="244.10" font-size="7" text-anchor="middle" fill="#1a1a1a">4</text>
<line x1="391.40" y1="232.20" x2="391.40" y2="234.80" stroke="#1a1a1a" stroke-width="1.2" stroke-linecap="butt"/>
<text x="391.40" y="244.10" font-size="7" text-anchor="middle" fill="#1a1a1a">5</text>
<text x="349.00" y="158.88" font-size="9.0" text-anchor="start" fill="#1a1a1a" textLength="24.60" lengthAdjust="spacingAndGlyphs">T cells</text>
<path d="M340.60,231.00 L353.30,232.00 L366.00,232.00 L378.70,232.00" fill="none" stroke="#a5002b" stroke-width="1.35" stroke-linejoin="round"/>
<path d="M338.60,232.60 L342.60,232.60 L340.60,229.00 Z" fill="#a5002b"/>
<path d="M351.30,233.60 L355.30,233.60 L353.30,230.00 Z" fill="#a5002b"/>
<path d="M364.00,233.60 L368.00,233.60 L366.00,230.00 Z" fill="#a5002b"/>
<path d="M376.70,233.60 L380.70,233.60 L378.70,230.00 Z" fill="#a5002b"/>
<line x1="340.60" y1="211.50" x2="340.60" y2="219.30" stroke="#111" stroke-width="1.1" stroke-linecap="butt"/>
<line x1="338.40" y1="211.50" x2="342.80" y2="211.50" stroke="#111" stroke-width="1.1" stroke-linecap="butt"/>
<line x1="338.40" y1="219.30" x2="342.80" y2="219.30" stroke="#111" stroke-width="1.1" stroke-linecap="butt"/>
<line x1="353.30" y1="203.50" x2="353.30" y2="217.20" stroke="#111" stroke-width="1.1" stroke-linecap="butt"/>
<line x1="351.10" y1="203.50" x2="355.50" y2="203.50" stroke="#111" stroke-width="1.1" stroke-linecap="butt"/>
<line x1="351.10" y1="217.20" x2="355.50" y2="217.20" stroke="#111" stroke-width="1.1" stroke-linecap="butt"/>
<line x1="366.00" y1="202.60" x2="366.00" y2="214.00" stroke="#111" stroke-width="1.1" stroke-linecap="butt"/>
<line x1="363.80" y1="202.60" x2="368.20" y2="202.60" stroke="#111" stroke-width="1.1" stroke-linecap="butt"/>
<line x1="363.80" y1="214.00" x2="368.20" y2="214.00" stroke="#111" stroke-width="1.1" stroke-linecap="butt"/>
<line x1="378.70" y1="197.10" x2="378.70" y2="212.30" stroke="#111" stroke-width="1.1" stroke-linecap="butt"/>
<line x1="376.50" y1="197.10" x2="380.90" y2="197.10" stroke="#111" stroke-width="1.1" stroke-linecap="butt"/>
<line x1="376.50" y1="212.30" x2="380.90" y2="212.30" stroke="#111" stroke-width="1.1" stroke-linecap="butt"/>
<path d="M340.60,215.10 L353.30,210.20 L366.00,208.10 L378.70,204.50" fill="none" stroke="#2f4a7c" stroke-width="1.35" stroke-linejoin="round"/>
<circle cx="340.60" cy="215.10" r="2.0" fill="#2f4a7c"/>
<circle cx="353.30" cy="210.20" r="2.0" fill="#2f4a7c"/>
<circle cx="366.00" cy="208.10" r="2.0" fill="#2f4a7c"/>
<circle cx="378.70" cy="204.50" r="2.0" fill="#2f4a7c"/>
<text x="362.40" y="186.03" font-size="5.6" text-anchor="start" fill="#1a1a1a" textLength="24.30" lengthAdjust="spacingAndGlyphs" stroke="none">p=0.0029</text>
<line x1="447.60" y1="102.80" x2="447.60" y2="35.60" stroke="#1a1a1a" stroke-width="1.4" stroke-linecap="butt"/>
<line x1="445.00" y1="102.10" x2="447.60" y2="102.10" stroke="#1a1a1a" stroke-width="1.2" stroke-linecap="butt"/>
<text x="441.60" y="104.60" font-size="7" text-anchor="end" fill="#1a1a1a">0</text>
<line x1="445.00" y1="86.05" x2="447.60" y2="86.05" stroke="#1a1a1a" stroke-width="1.2" stroke-linecap="butt"/>
<text x="441.60" y="88.55" font-size="7" text-anchor="end" fill="#1a1a1a">20</text>
<line x1="445.00" y1="70.00" x2="447.60" y2="70.00" stroke="#1a1a1a" stroke-width="1.2" stroke-linecap="butt"/>
<text x="441.60" y="72.50" font-size="7" text-anchor="end" fill="#1a1a1a">40</text>
<line x1="445.00" y1="53.95" x2="447.60" y2="53.95" stroke="#1a1a1a" stroke-width="1.2" stroke-linecap="butt"/>
<text x="441.60" y="56.45" font-size="7" text-anchor="end" fill="#1a1a1a">60</text>
<line x1="445.00" y1="37.90" x2="447.60" y2="37.90" stroke="#1a1a1a" stroke-width="1.2" stroke-linecap="butt"/>
<text x="441.60" y="40.40" font-size="7" text-anchor="end" fill="#1a1a1a">80</text>
<line x1="454.50" y1="52.80" x2="454.50" y2="60.80" stroke="#1a1a1a" stroke-width="0.9" stroke-linecap="butt"/>
<line x1="452.70" y1="52.80" x2="456.30" y2="52.80" stroke="#1a1a1a" stroke-width="0.9" stroke-linecap="butt"/>
<rect x="451.00" y="60.80" width="7.00" height="41.30" fill="#2f4a7c"/>
<line x1="461.70" y1="57.40" x2="461.70" y2="67.00" stroke="#1a1a1a" stroke-width="0.9" stroke-linecap="butt"/>
<line x1="459.90" y1="57.40" x2="463.50" y2="57.40" stroke="#1a1a1a" stroke-width="0.9" stroke-linecap="butt"/>
<rect x="458.00" y="67.00" width="7.40" height="35.10" fill="#a5002b"/>
<line x1="476.05" y1="84.00" x2="476.05" y2="89.00" stroke="#1a1a1a" stroke-width="0.9" stroke-linecap="butt"/>
<line x1="474.25" y1="84.00" x2="477.85" y2="84.00" stroke="#1a1a1a" stroke-width="0.9" stroke-linecap="butt"/>
<rect x="472.60" y="89.00" width="6.90" height="13.10" fill="#2f4a7c"/>
<line x1="483.05" y1="92.30" x2="483.05" y2="94.60" stroke="#1a1a1a" stroke-width="0.9" stroke-linecap="butt"/>
<line x1="481.25" y1="92.30" x2="484.85" y2="92.30" stroke="#1a1a1a" stroke-width="0.9" stroke-linecap="butt"/>
<rect x="479.50" y="94.60" width="7.10" height="7.50" fill="#a5002b"/>
<line x1="497.30" y1="71.50" x2="497.30" y2="77.20" stroke="#1a1a1a" stroke-width="0.9" stroke-linecap="butt"/>
<line x1="495.50" y1="71.50" x2="499.10" y2="71.50" stroke="#1a1a1a" stroke-width="0.9" stroke-linecap="butt"/>
<rect x="493.80" y="77.20" width="7.00" height="24.90" fill="#2f4a7c"/>
<line x1="504.40" y1="54.30" x2="504.40" y2="65.00" stroke="#1a1a1a" stroke-width="0.9" stroke-linecap="butt"/>
<line x1="502.60" y1="54.30" x2="506.20" y2="54.30" stroke="#1a1a1a" stroke-width="0.9" stroke-linecap="butt"/>
<rect x="500.80" y="65.00" width="7.20" height="37.10" fill="#a5002b"/>
<line x1="446.90" y1="102.10" x2="512.00" y2="102.10" stroke="#1a1a1a" stroke-width="1.4" stroke-linecap="butt"/>
<line x1="458.00" y1="102.10" x2="458.00" y2="104.70" stroke="#1a1a1a" stroke-width="1.2" stroke-linecap="butt"/>
<line x1="479.20" y1="102.10" x2="479.20" y2="104.70" stroke="#1a1a1a" stroke-width="1.2" stroke-linecap="butt"/>
<line x1="500.50" y1="102.10" x2="500.50" y2="104.70" stroke="#1a1a1a" stroke-width="1.2" stroke-linecap="butt"/>
<text x="458.20" y="114.40" font-size="7" text-anchor="middle" fill="#1a1a1a">B</text>
<text x="479.20" y="114.40" font-size="7" text-anchor="middle" fill="#1a1a1a">T</text>
<text x="488.80" y="114.40" font-size="7" text-anchor="start" fill="#1a1a1a" textLength="24.20" lengthAdjust="spacingAndGlyphs">Myeloid</text>
<line x1="450.00" y1="37.80" x2="463.80" y2="37.80" stroke="#2f4a7c" stroke-width="2.5" stroke-linecap="butt"/>
<line x1="450.00" y1="45.60" x2="463.80" y2="45.60" stroke="#a5002b" stroke-width="2.6" stroke-linecap="butt"/>
<text transform="translate(467.51,39.60) scale(0.708,1)" font-size="5.67" fill="#1a1a1a" stroke="#1a1a1a" stroke-width="0.18">Y</text>
<text transform="translate(471.58,36.00) scale(1.647,1)" font-size="1.50" fill="#1a1a1a" stroke="#1a1a1a" stroke-width="0.25">−</text>
<text transform="translate(467.51,47.50) scale(0.708,1)" font-size="5.67" fill="#1a1a1a" stroke="#1a1a1a" stroke-width="0.18">Y</text>
<text transform="translate(471.94,44.20) scale(1.267,1)" font-size="2.60" fill="#1a1a1a" stroke="#1a1a1a" stroke-width="0.25">+</text>
<text transform="translate(429.11,104.40) rotate(-90)" font-size="9.6" text-anchor="start" fill="#1a1a1a" textLength="73.70" lengthAdjust="spacingAndGlyphs" stroke="#1a1a1a" stroke-width="0.15">Lineage distribution (%)</text>
<line x1="447.60" y1="232.80" x2="447.60" y2="165.60" stroke="#1a1a1a" stroke-width="1.4" stroke-linecap="butt"/>
<line x1="445.00" y1="232.10" x2="447.60" y2="232.10" stroke="#1a1a1a" stroke-width="1.2" stroke-linecap="butt"/>
<text x="441.60" y="234.60" font-size="7" text-anchor="end" fill="#1a1a1a">0</text>
<line x1="445.00" y1="219.26" x2="447.60" y2="219.26" stroke="#1a1a1a" stroke-width="1.2" stroke-linecap="butt"/>
<text x="441.60" y="221.76" font-size="7" text-anchor="end" fill="#1a1a1a">20</text>
<line x1="445.00" y1="206.42" x2="447.60" y2="206.42" stroke="#1a1a1a" stroke-width="1.2" stroke-linecap="butt"/>
<text x="441.60" y="208.92" font-size="7" text-anchor="end" fill="#1a1a1a">40</text>
<line x1="445.00" y1="193.58" x2="447.60" y2="193.58" stroke="#1a1a1a" stroke-width="1.2" stroke-linecap="butt"/>
<text x="441.60" y="196.08" font-size="7" text-anchor="end" fill="#1a1a1a">60</text>
<line x1="445.00" y1="180.74" x2="447.60" y2="180.74" stroke="#1a1a1a" stroke-width="1.2" stroke-linecap="butt"/>
<text x="441.60" y="183.24" font-size="7" text-anchor="end" fill="#1a1a1a">80</text>
<line x1="445.00" y1="167.90" x2="447.60" y2="167.90" stroke="#1a1a1a" stroke-width="1.2" stroke-linecap="butt"/>
<text x="441.60" y="170.40" font-size="7" text-anchor="end" fill="#1a1a1a">100</text>
<line x1="454.50" y1="207.40" x2="454.50" y2="213.00" stroke="#1a1a1a" stroke-width="0.9" stroke-linecap="butt"/>
<line x1="452.70" y1="207.40" x2="456.30" y2="207.40" stroke="#1a1a1a" stroke-width="0.9" stroke-linecap="butt"/>
<rect x="451.00" y="213.00" width="7.00" height="19.10" fill="#2f4a7c"/>
<line x1="461.70" y1="223.50" x2="461.70" y2="226.10" stroke="#1a1a1a" stroke-width="0.9" stroke-linecap="butt"/>
<line x1="459.90" y1="223.50" x2="463.50" y2="223.50" stroke="#1a1a1a" stroke-width="0.9" stroke-linecap="butt"/>
<rect x="458.00" y="226.10" width="7.40" height="6.00" fill="#a5002b"/>
<line x1="476.05" y1="227.40" x2="476.05" y2="229.00" stroke="#1a1a1a" stroke-width="0.9" stroke-linecap="butt"/>
<line x1="474.25" y1="227.40" x2="477.85" y2="227.40" stroke="#1a1a1a" stroke-width="0.9" stroke-linecap="butt"/>
<rect x="472.60" y="229.00" width="6.90" height="3.10" fill="#2f4a7c"/>
<line x1="483.05" y1="230.40" x2="483.05" y2="231.00" stroke="#1a1a1a" stroke-width="0.9" stroke-linecap="butt"/>
<line x1="481.25" y1="230.40" x2="484.85" y2="230.40" stroke="#1a1a1a" stroke-width="0.9" stroke-linecap="butt"/>
<rect x="479.50" y="231.00" width="7.10" height="1.10" fill="#a5002b"/>
<line x1="497.30" y1="183.00" x2="497.30" y2="190.00" stroke="#1a1a1a" stroke-width="0.9" stroke-linecap="butt"/>
<line x1="495.50" y1="183.00" x2="499.10" y2="183.00" stroke="#1a1a1a" stroke-width="0.9" stroke-linecap="butt"/>
<rect x="493.80" y="190.00" width="7.00" height="42.10" fill="#2f4a7c"/>
<line x1="504.40" y1="172.30" x2="504.40" y2="175.00" stroke="#1a1a1a" stroke-width="0.9" stroke-linecap="butt"/>
<line x1="502.60" y1="172.30" x2="506.20" y2="172.30" stroke="#1a1a1a" stroke-width="0.9" stroke-linecap="butt"/>
<rect x="500.80" y="175.00" width="7.20" height="57.10" fill="#a5002b"/>
<line x1="446.90" y1="232.10" x2="512.00" y2="232.10" stroke="#1a1a1a" stroke-width="1.4" stroke-linecap="butt"/>
<line x1="458.00" y1="232.10" x2="458.00" y2="234.70" stroke="#1a1a1a" stroke-width="1.2" stroke-linecap="butt"/>
<line x1="479.20" y1="232.10" x2="479.20" y2="234.70" stroke="#1a1a1a" stroke-width="1.2" stroke-linecap="butt"/>
<line x1="500.50" y1="232.10" x2="500.50" y2="234.70" stroke="#1a1a1a" stroke-width="1.2" stroke-linecap="butt"/>
<text x="458.20" y="244.40" font-size="7" text-anchor="middle" fill="#1a1a1a">B</text>
<text x="479.20" y="244.40" font-size="7" text-anchor="middle" fill="#1a1a1a">T</text>
<text x="488.80" y="244.40" font-size="7" text-anchor="start" fill="#1a1a1a" textLength="24.20" lengthAdjust="spacingAndGlyphs">Myeloid</text>
<line x1="449.00" y1="169.40" x2="462.80" y2="169.40" stroke="#2f4a7c" stroke-width="2.6" stroke-linecap="butt"/>
<line x1="449.00" y1="176.40" x2="462.80" y2="176.40" stroke="#a5002b" stroke-width="2.6" stroke-linecap="butt"/>
<text transform="translate(465.41,171.20) scale(1.048,1)" font-size="5.87" fill="#1a1a1a" stroke="#1a1a1a" stroke-width="0.18">O</text>
<text transform="translate(470.78,167.00) scale(1.647,1)" font-size="1.50" fill="#1a1a1a" stroke="#1a1a1a" stroke-width="0.25">−</text>
<text transform="translate(465.41,178.40) scale(1.048,1)" font-size="5.87" fill="#1a1a1a" stroke="#1a1a1a" stroke-width="0.18">O</text>
<text transform="translate(470.74,174.60) scale(1.267,1)" font-size="2.60" fill="#1a1a1a" stroke="#1a1a1a" stroke-width="0.25">+</text>
<text transform="translate(425.51,235.00) rotate(-90)" font-size="9.6" text-anchor="start" fill="#1a1a1a" textLength="74.00" lengthAdjust="spacingAndGlyphs" stroke="#1a1a1a" stroke-width="0.15">Lineage distribution (%)</text>
<line x1="51.70" y1="382.00" x2="51.70" y2="289.40" stroke="#1a1a1a" stroke-width="1.4" stroke-linecap="butt"/>
<line x1="49.10" y1="381.30" x2="51.70" y2="381.30" stroke="#1a1a1a" stroke-width="1.2" stroke-linecap="butt"/>
<text x="45.10" y="383.80" font-size="7" text-anchor="end" fill="#1a1a1a">0</text>
<line x1="49.10" y1="358.90" x2="51.70" y2="358.90" stroke="#1a1a1a" stroke-width="1.2" stroke-linecap="butt"/>
<text x="45.10" y="361.40" font-size="7" text-anchor="end" fill="#1a1a1a" textLength="11.00" lengthAdjust="spacingAndGlyphs">500</text>
<line x1="49.10" y1="336.50" x2="51.70" y2="336.50" stroke="#1a1a1a" stroke-width="1.2" stroke-linecap="butt"/>
<text x="45.10" y="339.00" font-size="7" text-anchor="end" fill="#1a1a1a" textLength="14.60" lengthAdjust="spacingAndGlyphs">1000</text>
<line x1="49.10" y1="314.10" x2="51.70" y2="314.10" stroke="#1a1a1a" stroke-width="1.2" stroke-linecap="butt"/>
<text x="45.10" y="316.60" font-size="7" text-anchor="end" fill="#1a1a1a" textLength="14.60" lengthAdjust="spacingAndGlyphs">1500</text>
<line x1="49.10" y1="291.70" x2="51.70" y2="291.70" stroke="#1a1a1a" stroke-width="1.2" stroke-linecap="butt"/>
<text x="45.10" y="294.20" font-size="7" text-anchor="end" fill="#1a1a1a" textLength="14.60" lengthAdjust="spacingAndGlyphs">2000</text>
<line x1="61.65" y1="297.00" x2="61.65" y2="305.50" stroke="#1a1a1a" stroke-width="0.9" stroke-linecap="butt"/>
<line x1="59.85" y1="297.00" x2="63.45" y2="297.00" stroke="#1a1a1a" stroke-width="0.9" stroke-linecap="butt"/>
<rect x="56.80" y="305.50" width="9.70" height="75.80" fill="#2f4a7c"/>
<line x1="71.50" y1="324.00" x2="71.50" y2="329.20" stroke="#1a1a1a" stroke-width="0.9" stroke-linecap="butt"/>
<line x1="69.70" y1="324.00" x2="73.30" y2="324.00" stroke="#1a1a1a" stroke-width="0.9" stroke-linecap="butt"/>
<rect x="66.50" y="329.20" width="10.00" height="52.10" fill="#a5002b"/>
<line x1="92.05" y1="373.40" x2="92.05" y2="374.20" stroke="#1a1a1a" stroke-width="0.9" stroke-linecap="butt"/>
<line x1="90.25" y1="373.40" x2="93.85" y2="373.40" stroke="#1a1a1a" stroke-width="0.9" stroke-linecap="butt"/>
<rect x="87.00" y="374.20" width="10.10" height="7.10" fill="#2f4a7c"/>
<line x1="102.15" y1="373.40" x2="102.15" y2="374.50" stroke="#1a1a1a" stroke-width="0.9" stroke-linecap="butt"/>
<line x1="100.35" y1="373.40" x2="103.95" y2="373.40" stroke="#1a1a1a" stroke-width="0.9" stroke-linecap="butt"/>
<rect x="97.10" y="374.50" width="10.10" height="6.80" fill="#a5002b"/>
<line x1="122.40" y1="328.00" x2="122.40" y2="332.70" stroke="#1a1a1a" stroke-width="0.9" stroke-linecap="butt"/>
<line x1="120.60" y1="328.00" x2="124.20" y2="328.00" stroke="#1a1a1a" stroke-width="0.9" stroke-linecap="butt"/>
<rect x="117.30" y="332.70" width="10.20" height="48.60" fill="#2f4a7c"/>
<line x1="132.50" y1="349.40" x2="132.50" y2="352.30" stroke="#1a1a1a" stroke-width="0.9" stroke-linecap="butt"/>
<line x1="130.70" y1="349.40" x2="134.30" y2="349.40" stroke="#1a1a1a" stroke-width="0.9" stroke-linecap="butt"/>
<rect x="127.50" y="352.30" width="10.00" height="29.00" fill="#a5002b"/>
<line x1="51.00" y1="381.30" x2="140.50" y2="381.30" stroke="#1a1a1a" stroke-width="1.4" stroke-linecap="butt"/>
<line x1="66.50" y1="381.30" x2="66.50" y2="383.90" stroke="#1a1a1a" stroke-width="1.2" stroke-linecap="butt"/>
<line x1="97.10" y1="381.30" x2="97.10" y2="383.90" stroke="#1a1a1a" stroke-width="1.2" stroke-linecap="butt"/>
<line x1="127.50" y1="381.30" x2="127.50" y2="383.90" stroke="#1a1a1a" stroke-width="1.2" stroke-linecap="butt"/>
<text x="59.00" y="393.60" font-size="7" text-anchor="start" fill="#1a1a1a" textLength="14.00" lengthAdjust="spacingAndGlyphs">HSC</text>
<text x="86.00" y="393.60" font-size="7" text-anchor="start" fill="#1a1a1a" textLength="21.00" lengthAdjust="spacingAndGlyphs">Ly-HSC</text>
<text x="115.00" y="393.60" font-size="7" text-anchor="start" fill="#1a1a1a" textLength="23.50" lengthAdjust="spacingAndGlyphs">My-HSC</text>
<text x="53.50" y="292.33" font-size="5.6" text-anchor="start" fill="#1a1a1a" textLength="24.50" lengthAdjust="spacingAndGlyphs" stroke="none">p=0.0403</text>
<text x="106.70" y="324.53" font-size="5.6" text-anchor="start" fill="#1a1a1a" textLength="24.50" lengthAdjust="spacingAndGlyphs" stroke="none">p=0.0068</text>
<line x1="117.30" y1="292.80" x2="131.20" y2="292.80" stroke="#2f4a7c" stroke-width="2.6" stroke-linecap="butt"/>
<line x1="117.30" y1="302.30" x2="131.20" y2="302.30" stroke="#a5002b" stroke-width="2.6" stroke-linecap="butt"/>
<text transform="translate(134.28,294.10) scale(0.960,1)" font-size="5.52" fill="#1a1a1a" stroke="#1a1a1a" stroke-width="0.12">WT</text>
<text transform="translate(134.70,303.90) scale(0.927,1)" font-size="5.44" font-style="italic" fill="#1a1a1a" stroke="#1a1a1a" stroke-width="0.12">IL27Ra</text>
<text transform="translate(151.30,300.60) scale(0.687,1)" font-size="2.92" fill="#1a1a1a" stroke="#1a1a1a" stroke-width="0.10">−/−</text>
<text transform="translate(15.91,355.30) rotate(-90)" font-size="9.6" text-anchor="start" fill="#1a1a1a" textLength="39.30" lengthAdjust="spacingAndGlyphs" stroke="#1a1a1a" stroke-width="0.15">HSC number</text>
<text transform="translate(25.51,368.60) rotate(-90)" font-size="9.6" text-anchor="start" fill="#1a1a1a" textLength="67.60" lengthAdjust="spacingAndGlyphs" stroke="#1a1a1a" stroke-width="0.15">(per million live cells)</text>
<line x1="206.80" y1="382.20" x2="206.80" y2="288.60" stroke="#1a1a1a" stroke-width="1.4" stroke-linecap="butt"/>
<line x1="204.20" y1="381.50" x2="206.80" y2="381.50" stroke="#1a1a1a" stroke-width="1.2" stroke-linecap="butt"/>
<text x="200.50" y="384.00" font-size="7" text-anchor="end" fill="#1a1a1a">0</text>
<line x1="204.20" y1="358.85" x2="206.80" y2="358.85" stroke="#1a1a1a" stroke-width="1.2" stroke-linecap="butt"/>
<text x="200.50" y="361.35" font-size="7" text-anchor="end" fill="#1a1a1a">20</text>
<line x1="204.20" y1="336.20" x2="206.80" y2="336.20" stroke="#1a1a1a" stroke-width="1.2" stroke-linecap="butt"/>
<text x="200.50" y="338.70" font-size="7" text-anchor="end" fill="#1a1a1a">40</text>
<line x1="204.20" y1="313.55" x2="206.80" y2="313.55" stroke="#1a1a1a" stroke-width="1.2" stroke-linecap="butt"/>
<text x="200.50" y="316.05" font-size="7" text-anchor="end" fill="#1a1a1a">60</text>
<line x1="204.20" y1="290.90" x2="206.80" y2="290.90" stroke="#1a1a1a" stroke-width="1.2" stroke-linecap="butt"/>
<text x="200.50" y="293.40" font-size="7" text-anchor="end" fill="#1a1a1a">80</text>
<line x1="217.00" y1="341.30" x2="217.00" y2="348.50" stroke="#1a1a1a" stroke-width="0.9" stroke-linecap="butt"/>
<line x1="215.20" y1="341.30" x2="218.80" y2="341.30" stroke="#1a1a1a" stroke-width="0.9" stroke-linecap="butt"/>
<rect x="212.00" y="348.50" width="10.00" height="33.00" fill="#2f4a7c"/>
<line x1="227.00" y1="304.70" x2="227.00" y2="308.50" stroke="#1a1a1a" stroke-width="0.9" stroke-linecap="butt"/>
<line x1="225.20" y1="304.70" x2="228.80" y2="304.70" stroke="#1a1a1a" stroke-width="0.9" stroke-linecap="butt"/>
<rect x="222.00" y="308.50" width="10.00" height="73.00" fill="#a5002b"/>
<line x1="247.25" y1="364.70" x2="247.25" y2="367.60" stroke="#1a1a1a" stroke-width="0.9" stroke-linecap="butt"/>
<line x1="245.45" y1="364.70" x2="249.05" y2="364.70" stroke="#1a1a1a" stroke-width="0.9" stroke-linecap="butt"/>
<rect x="242.20" y="367.60" width="10.10" height="13.90" fill="#2f4a7c"/>
<line x1="257.35" y1="366.00" x2="257.35" y2="368.20" stroke="#1a1a1a" stroke-width="0.9" stroke-linecap="butt"/>
<line x1="255.55" y1="366.00" x2="259.15" y2="366.00" stroke="#1a1a1a" stroke-width="0.9" stroke-linecap="butt"/>
<rect x="252.30" y="368.20" width="10.10" height="13.30" fill="#a5002b"/>
<line x1="277.00" y1="310.50" x2="277.00" y2="319.00" stroke="#1a1a1a" stroke-width="0.9" stroke-linecap="butt"/>
<line x1="275.20" y1="310.50" x2="278.80" y2="310.50" stroke="#1a1a1a" stroke-width="0.9" stroke-linecap="butt"/>
<rect x="272.00" y="319.00" width="10.00" height="62.50" fill="#2f4a7c"/>
<line x1="287.00" y1="353.70" x2="287.00" y2="357.20" stroke="#1a1a1a" stroke-width="0.9" stroke-linecap="butt"/>
<line x1="285.20" y1="353.70" x2="288.80" y2="353.70" stroke="#1a1a1a" stroke-width="0.9" stroke-linecap="butt"/>
<rect x="282.00" y="357.20" width="10.00" height="24.30" fill="#a5002b"/>
<line x1="206.10" y1="381.50" x2="297.00" y2="381.50" stroke="#1a1a1a" stroke-width="1.4" stroke-linecap="butt"/>
<line x1="221.80" y1="381.50" x2="221.80" y2="384.10" stroke="#1a1a1a" stroke-width="1.2" stroke-linecap="butt"/>
<line x1="252.30" y1="381.50" x2="252.30" y2="384.10" stroke="#1a1a1a" stroke-width="1.2" stroke-linecap="butt"/>
<line x1="282.00" y1="381.50" x2="282.00" y2="384.10" stroke="#1a1a1a" stroke-width="1.2" stroke-linecap="butt"/>
<text x="212.80" y="393.60" font-size="7" text-anchor="start" fill="#1a1a1a" textLength="18.00" lengthAdjust="spacingAndGlyphs">B cells</text>
<text x="242.00" y="393.60" font-size="7" text-anchor="start" fill="#1a1a1a" textLength="19.00" lengthAdjust="spacingAndGlyphs">T cells</text>
<text x="270.00" y="393.60" font-size="7" text-anchor="start" fill="#1a1a1a" textLength="24.00" lengthAdjust="spacingAndGlyphs">Myeloid</text>
<text x="209.60" y="298.03" font-size="5.6" text-anchor="start" fill="#1a1a1a" textLength="24.00" lengthAdjust="spacingAndGlyphs" stroke="none">p=0.0003</text>
<text x="270.00" y="306.73" font-size="5.6" text-anchor="start" fill="#1a1a1a" textLength="24.00" lengthAdjust="spacingAndGlyphs" stroke="none">p=0.0020</text>
<line x1="300.20" y1="291.50" x2="314.20" y2="291.50" stroke="#2f4a7c" stroke-width="2.6" stroke-linecap="butt"/>
<line x1="300.20" y1="301.00" x2="314.20" y2="301.00" stroke="#a5002b" stroke-width="2.6" stroke-linecap="butt"/>
<text transform="translate(317.58,292.90) scale(0.960,1)" font-size="5.52" fill="#1a1a1a" stroke="#1a1a1a" stroke-width="0.12">WT</text>
<text transform="translate(317.90,302.60) scale(0.927,1)" font-size="5.44" font-style="italic" fill="#1a1a1a" stroke="#1a1a1a" stroke-width="0.12">IL27Ra</text>
<text transform="translate(334.50,299.30) scale(0.687,1)" font-size="2.92" fill="#1a1a1a" stroke="#1a1a1a" stroke-width="0.10">−/−</text>
<text transform="translate(188.91,361.80) rotate(-90)" font-size="9.6" text-anchor="start" fill="#1a1a1a" textLength="50.10" lengthAdjust="spacingAndGlyphs" stroke="#1a1a1a" stroke-width="0.15">Percentage (%)</text>
<line x1="51.25" y1="506.95" x2="51.25" y2="438.75" stroke="#1a1a1a" stroke-width="1.4" stroke-linecap="butt"/>
<line x1="48.65" y1="506.25" x2="51.25" y2="506.25" stroke="#1a1a1a" stroke-width="1.2" stroke-linecap="butt"/>
<text x="45.25" y="508.75" font-size="7" text-anchor="end" fill="#1a1a1a">0</text>
<line x1="48.65" y1="493.25" x2="51.25" y2="493.25" stroke="#1a1a1a" stroke-width="1.2" stroke-linecap="butt"/>
<text x="45.25" y="495.75" font-size="7" text-anchor="end" fill="#1a1a1a">20</text>
<line x1="48.65" y1="480.25" x2="51.25" y2="480.25" stroke="#1a1a1a" stroke-width="1.2" stroke-linecap="butt"/>
<text x="45.25" y="482.75" font-size="7" text-anchor="end" fill="#1a1a1a">40</text>
<line x1="48.65" y1="467.25" x2="51.25" y2="467.25" stroke="#1a1a1a" stroke-width="1.2" stroke-linecap="butt"/>
<text x="45.25" y="469.75" font-size="7" text-anchor="end" fill="#1a1a1a">60</text>
<line x1="48.65" y1="454.25" x2="51.25" y2="454.25" stroke="#1a1a1a" stroke-width="1.2" stroke-linecap="butt"/>
<text x="45.25" y="456.75" font-size="7" text-anchor="end" fill="#1a1a1a">80</text>
<line x1="48.65" y1="441.25" x2="51.25" y2="441.25" stroke="#1a1a1a" stroke-width="1.2" stroke-linecap="butt"/>
<text x="45.25" y="443.75" font-size="7" text-anchor="end" fill="#1a1a1a">100</text>
<line x1="50.55" y1="506.25" x2="115.00" y2="506.25" stroke="#1a1a1a" stroke-width="1.4" stroke-linecap="butt"/>
<line x1="51.25" y1="506.25" x2="51.25" y2="508.85" stroke="#1a1a1a" stroke-width="1.2" stroke-linecap="butt"/>
<text x="51.25" y="518.15" font-size="7" text-anchor="middle" fill="#1a1a1a">0</text>
<line x1="66.75" y1="506.25" x2="66.75" y2="508.85" stroke="#1a1a1a" stroke-width="1.2" stroke-linecap="butt"/>
<text x="66.75" y="518.15" font-size="7" text-anchor="middle" fill="#1a1a1a">1</text>
<line x1="82.00" y1="506.25" x2="82.00" y2="508.85" stroke="#1a1a1a" stroke-width="1.2" stroke-linecap="butt"/>
<text x="82.00" y="518.15" font-size="7" text-anchor="middle" fill="#1a1a1a">2</text>
<line x1="97.50" y1="506.25" x2="97.50" y2="508.85" stroke="#1a1a1a" stroke-width="1.2" stroke-linecap="butt"/>
<text x="97.50" y="518.15" font-size="7" text-anchor="middle" fill="#1a1a1a">3</text>
<line x1="113.00" y1="506.25" x2="113.00" y2="508.85" stroke="#1a1a1a" stroke-width="1.2" stroke-linecap="butt"/>
<text x="113.00" y="518.15" font-size="7" text-anchor="middle" fill="#1a1a1a">4</text>
<text x="62.00" y="431.18" font-size="9.0" fill="#1a1a1a" textLength="43.50" lengthAdjust="spacingAndGlyphs">2<tspan font-size="6.30" dy="-2.5">nd</tspan><tspan dy="2.5"> Overall</tspan></text>
<line x1="66.75" y1="485.00" x2="66.75" y2="493.00" stroke="#111" stroke-width="1.1" stroke-linecap="butt"/>
<line x1="64.55" y1="485.00" x2="68.95" y2="485.00" stroke="#111" stroke-width="1.1" stroke-linecap="butt"/>
<line x1="64.55" y1="493.00" x2="68.95" y2="493.00" stroke="#111" stroke-width="1.1" stroke-linecap="butt"/>
<line x1="82.00" y1="483.25" x2="82.00" y2="489.25" stroke="#111" stroke-width="1.1" stroke-linecap="butt"/>
<line x1="79.80" y1="483.25" x2="84.20" y2="483.25" stroke="#111" stroke-width="1.1" stroke-linecap="butt"/>
<line x1="79.80" y1="489.25" x2="84.20" y2="489.25" stroke="#111" stroke-width="1.1" stroke-linecap="butt"/>
<line x1="97.50" y1="478.25" x2="97.50" y2="489.25" stroke="#111" stroke-width="1.1" stroke-linecap="butt"/>
<line x1="95.30" y1="478.25" x2="99.70" y2="478.25" stroke="#111" stroke-width="1.1" stroke-linecap="butt"/>
<line x1="95.30" y1="489.25" x2="99.70" y2="489.25" stroke="#111" stroke-width="1.1" stroke-linecap="butt"/>
<path d="M66.75,488.75 L82.00,486.25 L97.50,483.75" fill="none" stroke="#2f4a7c" stroke-width="1.35" stroke-linejoin="round"/>
<circle cx="66.75" cy="488.75" r="2.0" fill="#2f4a7c"/>
<circle cx="82.00" cy="486.25" r="2.0" fill="#2f4a7c"/>
<circle cx="97.50" cy="483.75" r="2.0" fill="#2f4a7c"/>
<line x1="66.75" y1="463.25" x2="66.75" y2="471.75" stroke="#111" stroke-width="1.1" stroke-linecap="butt"/>
<line x1="64.55" y1="463.25" x2="68.95" y2="463.25" stroke="#111" stroke-width="1.1" stroke-linecap="butt"/>
<line x1="64.55" y1="471.75" x2="68.95" y2="471.75" stroke="#111" stroke-width="1.1" stroke-linecap="butt"/>
<line x1="82.00" y1="462.50" x2="82.00" y2="471.25" stroke="#111" stroke-width="1.1" stroke-linecap="butt"/>
<line x1="79.80" y1="462.50" x2="84.20" y2="462.50" stroke="#111" stroke-width="1.1" stroke-linecap="butt"/>
<line x1="79.80" y1="471.25" x2="84.20" y2="471.25" stroke="#111" stroke-width="1.1" stroke-linecap="butt"/>
<line x1="97.50" y1="455.00" x2="97.50" y2="461.25" stroke="#111" stroke-width="1.1" stroke-linecap="butt"/>
<line x1="95.30" y1="455.00" x2="99.70" y2="455.00" stroke="#111" stroke-width="1.1" stroke-linecap="butt"/>
<line x1="95.30" y1="461.25" x2="99.70" y2="461.25" stroke="#111" stroke-width="1.1" stroke-linecap="butt"/>
<path d="M66.75,467.50 L82.00,467.00 L97.50,458.25" fill="none" stroke="#a5002b" stroke-width="1.35" stroke-linejoin="round"/>
<path d="M64.75,469.10 L68.75,469.10 L66.75,465.50 Z" fill="#a5002b"/>
<path d="M80.00,468.60 L84.00,468.60 L82.00,465.00 Z" fill="#a5002b"/>
<path d="M95.50,459.85 L99.50,459.85 L97.50,456.25 Z" fill="#a5002b"/>
<text x="91.00" y="474.03" font-size="5.6" text-anchor="start" fill="#1a1a1a" textLength="24.00" lengthAdjust="spacingAndGlyphs" stroke="none">p=0.0025</text>
<line x1="56.25" y1="439.30" x2="73.75" y2="439.30" stroke="#2f4a7c" stroke-width="1.15" stroke-linecap="butt"/>
<circle cx="64.50" cy="439.30" r="2.0" fill="#2f4a7c"/>
<text transform="translate(76.78,441.20) scale(0.913,1)" font-size="5.38" fill="#1a1a1a" stroke="#1a1a1a" stroke-width="0.12">WT</text>
<line x1="56.25" y1="447.50" x2="73.75" y2="447.50" stroke="#a5002b" stroke-width="1.15" stroke-linecap="butt"/>
<path d="M62.50,449.10 L66.50,449.10 L64.50,445.50 Z" fill="#a5002b"/>
<text transform="translate(77.20,449.30) scale(0.934,1)" font-size="5.30" font-style="italic" fill="#1a1a1a" stroke="#1a1a1a" stroke-width="0.12">IL27Ra</text>
<text transform="translate(93.81,445.00) scale(0.675,1)" font-size="2.64" fill="#1a1a1a" stroke="#1a1a1a" stroke-width="0.10">−/−</text>
<text x="55.00" y="530.14" font-size="8.8" fill="#1a1a1a" stroke="#1a1a1a" stroke-width="0.15" textLength="57.70" lengthAdjust="spacingAndGlyphs">Months after 2<tspan font-size="6.16" dy="-3.0">nd</tspan><tspan dy="3.0"> Tx</tspan></text>
<text transform="translate(29.91,500.00) rotate(-90)" font-size="9.6" text-anchor="start" fill="#1a1a1a" textLength="56.00" lengthAdjust="spacingAndGlyphs" stroke="#1a1a1a" stroke-width="0.15">Donor derived (%)</text>
<line x1="142.50" y1="506.95" x2="142.50" y2="438.80" stroke="#1a1a1a" stroke-width="1.4" stroke-linecap="butt"/>
<line x1="139.90" y1="506.25" x2="142.50" y2="506.25" stroke="#1a1a1a" stroke-width="1.2" stroke-linecap="butt"/>
<text x="136.50" y="508.75" font-size="7" text-anchor="end" fill="#1a1a1a">0</text>
<line x1="139.90" y1="493.26" x2="142.50" y2="493.26" stroke="#1a1a1a" stroke-width="1.2" stroke-linecap="butt"/>
<text x="136.50" y="495.76" font-size="7" text-anchor="end" fill="#1a1a1a">20</text>
<line x1="139.90" y1="480.27" x2="142.50" y2="480.27" stroke="#1a1a1a" stroke-width="1.2" stroke-linecap="butt"/>
<text x="136.50" y="482.77" font-size="7" text-anchor="end" fill="#1a1a1a">40</text>
<line x1="139.90" y1="467.28" x2="142.50" y2="467.28" stroke="#1a1a1a" stroke-width="1.2" stroke-linecap="butt"/>
<text x="136.50" y="469.78" font-size="7" text-anchor="end" fill="#1a1a1a">60</text>
<line x1="139.90" y1="454.29" x2="142.50" y2="454.29" stroke="#1a1a1a" stroke-width="1.2" stroke-linecap="butt"/>
<text x="136.50" y="456.79" font-size="7" text-anchor="end" fill="#1a1a1a">80</text>
<line x1="139.90" y1="441.30" x2="142.50" y2="441.30" stroke="#1a1a1a" stroke-width="1.2" stroke-linecap="butt"/>
<text x="136.50" y="443.80" font-size="7" text-anchor="end" fill="#1a1a1a">100</text>
<line x1="141.80" y1="506.25" x2="201.25" y2="506.25" stroke="#1a1a1a" stroke-width="1.4" stroke-linecap="butt"/>
<line x1="142.50" y1="506.25" x2="142.50" y2="508.85" stroke="#1a1a1a" stroke-width="1.2" stroke-linecap="butt"/>
<text x="142.50" y="518.15" font-size="7" text-anchor="middle" fill="#1a1a1a">0</text>
<line x1="156.75" y1="506.25" x2="156.75" y2="508.85" stroke="#1a1a1a" stroke-width="1.2" stroke-linecap="butt"/>
<text x="156.75" y="518.15" font-size="7" text-anchor="middle" fill="#1a1a1a">1</text>
<line x1="170.75" y1="506.25" x2="170.75" y2="508.85" stroke="#1a1a1a" stroke-width="1.2" stroke-linecap="butt"/>
<text x="170.75" y="518.15" font-size="7" text-anchor="middle" fill="#1a1a1a">2</text>
<line x1="185.00" y1="506.25" x2="185.00" y2="508.85" stroke="#1a1a1a" stroke-width="1.2" stroke-linecap="butt"/>
<text x="185.00" y="518.15" font-size="7" text-anchor="middle" fill="#1a1a1a">3</text>
<line x1="199.25" y1="506.25" x2="199.25" y2="508.85" stroke="#1a1a1a" stroke-width="1.2" stroke-linecap="butt"/>
<text x="199.25" y="518.15" font-size="7" text-anchor="middle" fill="#1a1a1a">4</text>
<text x="157.00" y="431.68" font-size="9.0" text-anchor="start" fill="#1a1a1a" textLength="31.00" lengthAdjust="spacingAndGlyphs">Myeloid</text>
<line x1="156.75" y1="481.25" x2="156.75" y2="485.75" stroke="#111" stroke-width="1.1" stroke-linecap="butt"/>
<line x1="154.55" y1="481.25" x2="158.95" y2="481.25" stroke="#111" stroke-width="1.1" stroke-linecap="butt"/>
<line x1="154.55" y1="485.75" x2="158.95" y2="485.75" stroke="#111" stroke-width="1.1" stroke-linecap="butt"/>
<line x1="170.75" y1="461.25" x2="170.75" y2="469.25" stroke="#111" stroke-width="1.1" stroke-linecap="butt"/>
<line x1="168.55" y1="461.25" x2="172.95" y2="461.25" stroke="#111" stroke-width="1.1" stroke-linecap="butt"/>
<line x1="168.55" y1="469.25" x2="172.95" y2="469.25" stroke="#111" stroke-width="1.1" stroke-linecap="butt"/>
<line x1="185.00" y1="457.50" x2="185.00" y2="470.00" stroke="#111" stroke-width="1.1" stroke-linecap="butt"/>
<line x1="182.80" y1="457.50" x2="187.20" y2="457.50" stroke="#111" stroke-width="1.1" stroke-linecap="butt"/>
<line x1="182.80" y1="470.00" x2="187.20" y2="470.00" stroke="#111" stroke-width="1.1" stroke-linecap="butt"/>
<path d="M156.75,483.25 L170.75,465.50 L185.00,463.75" fill="none" stroke="#2f4a7c" stroke-width="1.35" stroke-linejoin="round"/>
<circle cx="156.75" cy="483.25" r="2.0" fill="#2f4a7c"/>
<circle cx="170.75" cy="465.50" r="2.0" fill="#2f4a7c"/>
<circle cx="185.00" cy="463.75" r="2.0" fill="#2f4a7c"/>
<line x1="156.75" y1="468.25" x2="156.75" y2="478.25" stroke="#111" stroke-width="1.1" stroke-linecap="butt"/>
<line x1="154.55" y1="468.25" x2="158.95" y2="468.25" stroke="#111" stroke-width="1.1" stroke-linecap="butt"/>
<line x1="154.55" y1="478.25" x2="158.95" y2="478.25" stroke="#111" stroke-width="1.1" stroke-linecap="butt"/>
<line x1="170.75" y1="446.25" x2="170.75" y2="450.00" stroke="#111" stroke-width="1.1" stroke-linecap="butt"/>
<line x1="168.55" y1="446.25" x2="172.95" y2="446.25" stroke="#111" stroke-width="1.1" stroke-linecap="butt"/>
<line x1="168.55" y1="450.00" x2="172.95" y2="450.00" stroke="#111" stroke-width="1.1" stroke-linecap="butt"/>
<line x1="185.00" y1="443.00" x2="185.00" y2="445.50" stroke="#111" stroke-width="1.1" stroke-linecap="butt"/>
<line x1="182.80" y1="443.00" x2="187.20" y2="443.00" stroke="#111" stroke-width="1.1" stroke-linecap="butt"/>
<line x1="182.80" y1="445.50" x2="187.20" y2="445.50" stroke="#111" stroke-width="1.1" stroke-linecap="butt"/>
<path d="M156.75,473.75 L170.75,448.25 L185.00,444.25" fill="none" stroke="#a5002b" stroke-width="1.35" stroke-linejoin="round"/>
<path d="M154.75,475.35 L158.75,475.35 L156.75,471.75 Z" fill="#a5002b"/>
<path d="M168.75,449.85 L172.75,449.85 L170.75,446.25 Z" fill="#a5002b"/>
<path d="M183.00,445.85 L187.00,445.85 L185.00,442.25 Z" fill="#a5002b"/>
<text x="175.00" y="479.03" font-size="5.6" text-anchor="start" fill="#1a1a1a" textLength="23.75" lengthAdjust="spacingAndGlyphs" stroke="none">p=0.0135</text>
<line x1="233.75" y1="506.95" x2="233.75" y2="438.80" stroke="#1a1a1a" stroke-width="1.4" stroke-linecap="butt"/>
<line x1="231.15" y1="506.25" x2="233.75" y2="506.25" stroke="#1a1a1a" stroke-width="1.2" stroke-linecap="butt"/>
<text x="227.75" y="508.75" font-size="7" text-anchor="end" fill="#1a1a1a">0</text>
<line x1="231.15" y1="493.26" x2="233.75" y2="493.26" stroke="#1a1a1a" stroke-width="1.2" stroke-linecap="butt"/>
<text x="227.75" y="495.76" font-size="7" text-anchor="end" fill="#1a1a1a">20</text>
<line x1="231.15" y1="480.27" x2="233.75" y2="480.27" stroke="#1a1a1a" stroke-width="1.2" stroke-linecap="butt"/>
<text x="227.75" y="482.77" font-size="7" text-anchor="end" fill="#1a1a1a">40</text>
<line x1="231.15" y1="467.28" x2="233.75" y2="467.28" stroke="#1a1a1a" stroke-width="1.2" stroke-linecap="butt"/>
<text x="227.75" y="469.78" font-size="7" text-anchor="end" fill="#1a1a1a">60</text>
<line x1="231.15" y1="454.29" x2="233.75" y2="454.29" stroke="#1a1a1a" stroke-width="1.2" stroke-linecap="butt"/>
<text x="227.75" y="456.79" font-size="7" text-anchor="end" fill="#1a1a1a">80</text>
<line x1="231.15" y1="441.30" x2="233.75" y2="441.30" stroke="#1a1a1a" stroke-width="1.2" stroke-linecap="butt"/>
<text x="227.75" y="443.80" font-size="7" text-anchor="end" fill="#1a1a1a">100</text>
<line x1="233.05" y1="506.25" x2="292.50" y2="506.25" stroke="#1a1a1a" stroke-width="1.4" stroke-linecap="butt"/>
<line x1="233.75" y1="506.25" x2="233.75" y2="508.85" stroke="#1a1a1a" stroke-width="1.2" stroke-linecap="butt"/>
<text x="233.75" y="518.15" font-size="7" text-anchor="middle" fill="#1a1a1a">0</text>
<line x1="247.75" y1="506.25" x2="247.75" y2="508.85" stroke="#1a1a1a" stroke-width="1.2" stroke-linecap="butt"/>
<text x="247.75" y="518.15" font-size="7" text-anchor="middle" fill="#1a1a1a">1</text>
<line x1="262.00" y1="506.25" x2="262.00" y2="508.85" stroke="#1a1a1a" stroke-width="1.2" stroke-linecap="butt"/>
<text x="262.00" y="518.15" font-size="7" text-anchor="middle" fill="#1a1a1a">2</text>
<line x1="276.25" y1="506.25" x2="276.25" y2="508.85" stroke="#1a1a1a" stroke-width="1.2" stroke-linecap="butt"/>
<text x="276.25" y="518.15" font-size="7" text-anchor="middle" fill="#1a1a1a">3</text>
<line x1="290.50" y1="506.25" x2="290.50" y2="508.85" stroke="#1a1a1a" stroke-width="1.2" stroke-linecap="butt"/>
<text x="290.50" y="518.15" font-size="7" text-anchor="middle" fill="#1a1a1a">4</text>
<text x="251.00" y="431.38" font-size="9.0" text-anchor="start" fill="#1a1a1a" textLength="25.00" lengthAdjust="spacingAndGlyphs">B cells</text>
<line x1="276.25" y1="490.00" x2="276.25" y2="497.50" stroke="#111" stroke-width="1.1" stroke-linecap="butt"/>
<line x1="274.05" y1="490.00" x2="278.45" y2="490.00" stroke="#111" stroke-width="1.1" stroke-linecap="butt"/>
<line x1="274.05" y1="497.50" x2="278.45" y2="497.50" stroke="#111" stroke-width="1.1" stroke-linecap="butt"/>
<path d="M247.75,500.00 L262.00,500.00 L276.25,493.75" fill="none" stroke="#2f4a7c" stroke-width="1.35" stroke-linejoin="round"/>
<circle cx="247.75" cy="500.00" r="2.0" fill="#2f4a7c"/>
<circle cx="262.00" cy="500.00" r="2.0" fill="#2f4a7c"/>
<circle cx="276.25" cy="493.75" r="2.0" fill="#2f4a7c"/>
<line x1="247.75" y1="448.75" x2="247.75" y2="452.50" stroke="#111" stroke-width="1.1" stroke-linecap="butt"/>
<line x1="245.55" y1="448.75" x2="249.95" y2="448.75" stroke="#111" stroke-width="1.1" stroke-linecap="butt"/>
<line x1="245.55" y1="452.50" x2="249.95" y2="452.50" stroke="#111" stroke-width="1.1" stroke-linecap="butt"/>
<line x1="262.00" y1="463.25" x2="262.00" y2="474.50" stroke="#111" stroke-width="1.1" stroke-linecap="butt"/>
<line x1="259.80" y1="463.25" x2="264.20" y2="463.25" stroke="#111" stroke-width="1.1" stroke-linecap="butt"/>
<line x1="259.80" y1="474.50" x2="264.20" y2="474.50" stroke="#111" stroke-width="1.1" stroke-linecap="butt"/>
<line x1="276.25" y1="458.75" x2="276.25" y2="466.25" stroke="#111" stroke-width="1.1" stroke-linecap="butt"/>
<line x1="274.05" y1="458.75" x2="278.45" y2="458.75" stroke="#111" stroke-width="1.1" stroke-linecap="butt"/>
<line x1="274.05" y1="466.25" x2="278.45" y2="466.25" stroke="#111" stroke-width="1.1" stroke-linecap="butt"/>
<path d="M247.75,450.75 L262.00,468.75 L276.25,462.50" fill="none" stroke="#a5002b" stroke-width="1.35" stroke-linejoin="round"/>
<path d="M245.75,452.35 L249.75,452.35 L247.75,448.75 Z" fill="#a5002b"/>
<path d="M260.00,470.35 L264.00,470.35 L262.00,466.75 Z" fill="#a5002b"/>
<path d="M274.25,464.10 L278.25,464.10 L276.25,460.50 Z" fill="#a5002b"/>
<text x="267.50" y="455.03" font-size="5.6" text-anchor="start" fill="#1a1a1a" textLength="23.50" lengthAdjust="spacingAndGlyphs" stroke="none">p=0.0003</text>
<line x1="318.75" y1="506.95" x2="318.75" y2="438.75" stroke="#1a1a1a" stroke-width="1.4" stroke-linecap="butt"/>
<line x1="316.15" y1="506.25" x2="318.75" y2="506.25" stroke="#1a1a1a" stroke-width="1.2" stroke-linecap="butt"/>
<text x="312.75" y="508.75" font-size="7" text-anchor="end" fill="#1a1a1a">0</text>
<line x1="316.15" y1="484.58" x2="318.75" y2="484.58" stroke="#1a1a1a" stroke-width="1.2" stroke-linecap="butt"/>
<text x="312.75" y="487.08" font-size="7" text-anchor="end" fill="#1a1a1a">20</text>
<line x1="316.15" y1="462.92" x2="318.75" y2="462.92" stroke="#1a1a1a" stroke-width="1.2" stroke-linecap="butt"/>
<text x="312.75" y="465.42" font-size="7" text-anchor="end" fill="#1a1a1a">40</text>
<line x1="316.15" y1="441.25" x2="318.75" y2="441.25" stroke="#1a1a1a" stroke-width="1.2" stroke-linecap="butt"/>
<text x="312.75" y="443.75" font-size="7" text-anchor="end" fill="#1a1a1a">60</text>
<line x1="318.05" y1="506.25" x2="382.00" y2="506.25" stroke="#1a1a1a" stroke-width="1.4" stroke-linecap="butt"/>
<line x1="318.75" y1="506.25" x2="318.75" y2="508.85" stroke="#1a1a1a" stroke-width="1.2" stroke-linecap="butt"/>
<text x="318.75" y="518.15" font-size="7" text-anchor="middle" fill="#1a1a1a">0</text>
<line x1="333.75" y1="506.25" x2="333.75" y2="508.85" stroke="#1a1a1a" stroke-width="1.2" stroke-linecap="butt"/>
<text x="333.75" y="518.15" font-size="7" text-anchor="middle" fill="#1a1a1a">1</text>
<line x1="349.25" y1="506.25" x2="349.25" y2="508.85" stroke="#1a1a1a" stroke-width="1.2" stroke-linecap="butt"/>
<text x="349.25" y="518.15" font-size="7" text-anchor="middle" fill="#1a1a1a">2</text>
<line x1="364.50" y1="506.25" x2="364.50" y2="508.85" stroke="#1a1a1a" stroke-width="1.2" stroke-linecap="butt"/>
<text x="364.50" y="518.15" font-size="7" text-anchor="middle" fill="#1a1a1a">3</text>
<line x1="379.50" y1="506.25" x2="379.50" y2="508.85" stroke="#1a1a1a" stroke-width="1.2" stroke-linecap="butt"/>
<text x="379.50" y="518.15" font-size="7" text-anchor="middle" fill="#1a1a1a">4</text>
<text x="338.75" y="431.68" font-size="9.0" text-anchor="start" fill="#1a1a1a" textLength="23.75" lengthAdjust="spacingAndGlyphs">T cells</text>
<line x1="333.75" y1="464.50" x2="333.75" y2="492.50" stroke="#111" stroke-width="1.1" stroke-linecap="butt"/>
<line x1="331.55" y1="464.50" x2="335.95" y2="464.50" stroke="#111" stroke-width="1.1" stroke-linecap="butt"/>
<line x1="331.55" y1="492.50" x2="335.95" y2="492.50" stroke="#111" stroke-width="1.1" stroke-linecap="butt"/>
<line x1="349.25" y1="485.75" x2="349.25" y2="491.75" stroke="#111" stroke-width="1.1" stroke-linecap="butt"/>
<line x1="347.05" y1="485.75" x2="351.45" y2="485.75" stroke="#111" stroke-width="1.1" stroke-linecap="butt"/>
<line x1="347.05" y1="491.75" x2="351.45" y2="491.75" stroke="#111" stroke-width="1.1" stroke-linecap="butt"/>
<line x1="364.50" y1="489.25" x2="364.50" y2="496.25" stroke="#111" stroke-width="1.1" stroke-linecap="butt"/>
<line x1="362.30" y1="489.25" x2="366.70" y2="489.25" stroke="#111" stroke-width="1.1" stroke-linecap="butt"/>
<line x1="362.30" y1="496.25" x2="366.70" y2="496.25" stroke="#111" stroke-width="1.1" stroke-linecap="butt"/>
<path d="M333.75,478.75 L349.25,488.75 L364.50,493.00" fill="none" stroke="#2f4a7c" stroke-width="1.35" stroke-linejoin="round"/>
<circle cx="333.75" cy="478.75" r="2.0" fill="#2f4a7c"/>
<circle cx="349.25" cy="488.75" r="2.0" fill="#2f4a7c"/>
<circle cx="364.50" cy="493.00" r="2.0" fill="#2f4a7c"/>
<line x1="333.75" y1="456.25" x2="333.75" y2="481.25" stroke="#111" stroke-width="1.1" stroke-linecap="butt"/>
<line x1="331.55" y1="456.25" x2="335.95" y2="456.25" stroke="#111" stroke-width="1.1" stroke-linecap="butt"/>
<line x1="331.55" y1="481.25" x2="335.95" y2="481.25" stroke="#111" stroke-width="1.1" stroke-linecap="butt"/>
<line x1="349.25" y1="463.25" x2="349.25" y2="480.50" stroke="#111" stroke-width="1.1" stroke-linecap="butt"/>
<line x1="347.05" y1="463.25" x2="351.45" y2="463.25" stroke="#111" stroke-width="1.1" stroke-linecap="butt"/>
<line x1="347.05" y1="480.50" x2="351.45" y2="480.50" stroke="#111" stroke-width="1.1" stroke-linecap="butt"/>
<line x1="364.50" y1="478.25" x2="364.50" y2="488.75" stroke="#111" stroke-width="1.1" stroke-linecap="butt"/>
<line x1="362.30" y1="478.25" x2="366.70" y2="478.25" stroke="#111" stroke-width="1.1" stroke-linecap="butt"/>
<line x1="362.30" y1="488.75" x2="366.70" y2="488.75" stroke="#111" stroke-width="1.1" stroke-linecap="butt"/>
<path d="M333.75,469.50 L349.25,472.00 L364.50,483.75" fill="none" stroke="#a5002b" stroke-width="1.35" stroke-linejoin="round"/>
<path d="M331.75,471.10 L335.75,471.10 L333.75,467.50 Z" fill="#a5002b"/>
<path d="M347.25,473.60 L351.25,473.60 L349.25,470.00 Z" fill="#a5002b"/>
<path d="M362.50,485.35 L366.50,485.35 L364.50,481.75 Z" fill="#a5002b"/>
<text x="360.00" y="465.00" font-size="5.6" text-anchor="start" fill="#1a1a1a" textLength="8.75" lengthAdjust="spacingAndGlyphs">n.s.</text>
<line x1="442.70" y1="507.00" x2="442.70" y2="438.60" stroke="#1a1a1a" stroke-width="1.4" stroke-linecap="butt"/>
<line x1="440.10" y1="506.30" x2="442.70" y2="506.30" stroke="#1a1a1a" stroke-width="1.2" stroke-linecap="butt"/>
<text x="436.70" y="508.80" font-size="7" text-anchor="end" fill="#1a1a1a">0</text>
<line x1="440.10" y1="490.25" x2="442.70" y2="490.25" stroke="#1a1a1a" stroke-width="1.2" stroke-linecap="butt"/>
<text x="436.70" y="492.75" font-size="7" text-anchor="end" fill="#1a1a1a">20</text>
<line x1="440.10" y1="474.20" x2="442.70" y2="474.20" stroke="#1a1a1a" stroke-width="1.2" stroke-linecap="butt"/>
<text x="436.70" y="476.70" font-size="7" text-anchor="end" fill="#1a1a1a">40</text>
<line x1="440.10" y1="458.15" x2="442.70" y2="458.15" stroke="#1a1a1a" stroke-width="1.2" stroke-linecap="butt"/>
<text x="436.70" y="460.65" font-size="7" text-anchor="end" fill="#1a1a1a">60</text>
<line x1="440.10" y1="442.10" x2="442.70" y2="442.10" stroke="#1a1a1a" stroke-width="1.2" stroke-linecap="butt"/>
<text x="436.70" y="444.60" font-size="7" text-anchor="end" fill="#1a1a1a">80</text>
<line x1="449.30" y1="483.50" x2="449.30" y2="486.50" stroke="#1a1a1a" stroke-width="0.9" stroke-linecap="butt"/>
<line x1="447.50" y1="483.50" x2="451.10" y2="483.50" stroke="#1a1a1a" stroke-width="0.9" stroke-linecap="butt"/>
<rect x="445.80" y="486.50" width="7.00" height="19.80" fill="#2f4a7c"/>
<line x1="456.45" y1="466.60" x2="456.45" y2="470.90" stroke="#1a1a1a" stroke-width="0.9" stroke-linecap="butt"/>
<line x1="454.65" y1="466.60" x2="458.25" y2="466.60" stroke="#1a1a1a" stroke-width="0.9" stroke-linecap="butt"/>
<rect x="452.80" y="470.90" width="7.30" height="35.40" fill="#a5002b"/>
<line x1="470.60" y1="500.30" x2="470.60" y2="501.50" stroke="#1a1a1a" stroke-width="0.9" stroke-linecap="butt"/>
<line x1="468.80" y1="500.30" x2="472.40" y2="500.30" stroke="#1a1a1a" stroke-width="0.9" stroke-linecap="butt"/>
<rect x="467.00" y="501.50" width="7.20" height="4.80" fill="#2f4a7c"/>
<line x1="477.90" y1="503.30" x2="477.90" y2="504.00" stroke="#1a1a1a" stroke-width="0.9" stroke-linecap="butt"/>
<line x1="476.10" y1="503.30" x2="479.70" y2="503.30" stroke="#1a1a1a" stroke-width="0.9" stroke-linecap="butt"/>
<rect x="474.20" y="504.00" width="7.40" height="2.30" fill="#a5002b"/>
<line x1="492.30" y1="448.70" x2="492.30" y2="451.40" stroke="#1a1a1a" stroke-width="0.9" stroke-linecap="butt"/>
<line x1="490.50" y1="448.70" x2="494.10" y2="448.70" stroke="#1a1a1a" stroke-width="0.9" stroke-linecap="butt"/>
<rect x="488.80" y="451.40" width="7.00" height="54.90" fill="#2f4a7c"/>
<line x1="499.50" y1="459.70" x2="499.50" y2="464.00" stroke="#1a1a1a" stroke-width="0.9" stroke-linecap="butt"/>
<line x1="497.70" y1="459.70" x2="501.30" y2="459.70" stroke="#1a1a1a" stroke-width="0.9" stroke-linecap="butt"/>
<rect x="495.80" y="464.00" width="7.40" height="42.30" fill="#a5002b"/>
<line x1="442.00" y1="506.30" x2="507.00" y2="506.30" stroke="#1a1a1a" stroke-width="1.4" stroke-linecap="butt"/>
<line x1="452.80" y1="506.30" x2="452.80" y2="508.90" stroke="#1a1a1a" stroke-width="1.2" stroke-linecap="butt"/>
<line x1="474.20" y1="506.30" x2="474.20" y2="508.90" stroke="#1a1a1a" stroke-width="1.2" stroke-linecap="butt"/>
<line x1="495.70" y1="506.30" x2="495.70" y2="508.90" stroke="#1a1a1a" stroke-width="1.2" stroke-linecap="butt"/>
<text x="453.00" y="518.00" font-size="7" text-anchor="middle" fill="#1a1a1a">B</text>
<text x="474.50" y="518.00" font-size="7" text-anchor="middle" fill="#1a1a1a">T</text>
<text x="483.60" y="518.00" font-size="7" text-anchor="start" fill="#1a1a1a" textLength="24.00" lengthAdjust="spacingAndGlyphs">Myeloid</text>
<text x="447.70" y="460.73" font-size="5.6" text-anchor="start" fill="#1a1a1a" textLength="23.70" lengthAdjust="spacingAndGlyphs" stroke="none">p=0.0138</text>
<text x="462.50" y="494.03" font-size="5.6" text-anchor="start" fill="#1a1a1a" textLength="24.70" lengthAdjust="spacingAndGlyphs" stroke="none">p=0.0157</text>
<text x="488.30" y="447.03" font-size="5.6" text-anchor="start" fill="#1a1a1a" textLength="24.30" lengthAdjust="spacingAndGlyphs" stroke="none">p=0.0390</text>
<line x1="445.00" y1="430.70" x2="458.70" y2="430.70" stroke="#2f4a7c" stroke-width="2.6" stroke-linecap="butt"/>
<line x1="445.00" y1="438.00" x2="458.70" y2="438.00" stroke="#a5002b" stroke-width="2.6" stroke-linecap="butt"/>
<text transform="translate(462.18,432.40) scale(0.843,1)" font-size="5.67" fill="#1a1a1a" stroke="#1a1a1a" stroke-width="0.12">WT</text>
<text transform="translate(462.01,439.90) scale(0.881,1)" font-size="5.59" font-style="italic" fill="#1a1a1a" stroke="#1a1a1a" stroke-width="0.12">IL27Ra</text>
<text transform="translate(478.60,436.30) scale(0.721,1)" font-size="2.78" fill="#1a1a1a" stroke="#1a1a1a" stroke-width="0.10">−/−</text>
<text transform="translate(420.91,509.00) rotate(-90)" font-size="9.6" text-anchor="start" fill="#1a1a1a" textLength="74.00" lengthAdjust="spacingAndGlyphs" stroke="#1a1a1a" stroke-width="0.15">Lineage distribution (%)</text>
<line x1="51.25" y1="640.70" x2="51.25" y2="573.75" stroke="#1a1a1a" stroke-width="1.4" stroke-linecap="butt"/>
<line x1="48.65" y1="640.00" x2="51.25" y2="640.00" stroke="#1a1a1a" stroke-width="1.2" stroke-linecap="butt"/>
<text x="45.25" y="642.50" font-size="7" text-anchor="end" fill="#1a1a1a">0</text>
<line x1="48.65" y1="627.25" x2="51.25" y2="627.25" stroke="#1a1a1a" stroke-width="1.2" stroke-linecap="butt"/>
<text x="45.25" y="629.75" font-size="7" text-anchor="end" fill="#1a1a1a">20</text>
<line x1="48.65" y1="614.50" x2="51.25" y2="614.50" stroke="#1a1a1a" stroke-width="1.2" stroke-linecap="butt"/>
<text x="45.25" y="617.00" font-size="7" text-anchor="end" fill="#1a1a1a">40</text>
<line x1="48.65" y1="601.75" x2="51.25" y2="601.75" stroke="#1a1a1a" stroke-width="1.2" stroke-linecap="butt"/>
<text x="45.25" y="604.25" font-size="7" text-anchor="end" fill="#1a1a1a">60</text>
<line x1="48.65" y1="589.00" x2="51.25" y2="589.00" stroke="#1a1a1a" stroke-width="1.2" stroke-linecap="butt"/>
<text x="45.25" y="591.50" font-size="7" text-anchor="end" fill="#1a1a1a">80</text>
<line x1="48.65" y1="576.25" x2="51.25" y2="576.25" stroke="#1a1a1a" stroke-width="1.2" stroke-linecap="butt"/>
<text x="45.25" y="578.75" font-size="7" text-anchor="end" fill="#1a1a1a">100</text>
<line x1="50.55" y1="640.00" x2="115.50" y2="640.00" stroke="#1a1a1a" stroke-width="1.4" stroke-linecap="butt"/>
<line x1="62.00" y1="640.00" x2="62.00" y2="642.60" stroke="#1a1a1a" stroke-width="1.2" stroke-linecap="butt"/>
<text x="62.00" y="652.30" font-size="7" text-anchor="middle" fill="#1a1a1a">1</text>
<line x1="83.75" y1="640.00" x2="83.75" y2="642.60" stroke="#1a1a1a" stroke-width="1.2" stroke-linecap="butt"/>
<text x="83.75" y="652.30" font-size="7" text-anchor="middle" fill="#1a1a1a">2</text>
<line x1="105.00" y1="640.00" x2="105.00" y2="642.60" stroke="#1a1a1a" stroke-width="1.2" stroke-linecap="butt"/>
<text x="105.00" y="652.30" font-size="7" text-anchor="middle" fill="#1a1a1a">3</text>
<line x1="62.00" y1="578.25" x2="62.00" y2="581.25" stroke="#a5002b" stroke-width="1.1" stroke-linecap="butt"/>
<line x1="59.80" y1="578.25" x2="64.20" y2="578.25" stroke="#a5002b" stroke-width="1.1" stroke-linecap="butt"/>
<line x1="59.80" y1="581.25" x2="64.20" y2="581.25" stroke="#a5002b" stroke-width="1.1" stroke-linecap="butt"/>
<path d="M62.00,579.50 L83.75,578.00 L105.00,577.50" fill="none" stroke="#a5002b" stroke-width="1.35" stroke-linejoin="round"/>
<path d="M59.60,581.42 L64.40,581.42 L62.00,577.10 Z" fill="#a5002b"/>
<path d="M81.35,579.92 L86.15,579.92 L83.75,575.60 Z" fill="#a5002b"/>
<path d="M102.60,579.42 L107.40,579.42 L105.00,575.10 Z" fill="#a5002b"/>
<line x1="62.00" y1="623.75" x2="62.00" y2="631.25" stroke="#2f4a7c" stroke-width="1.1" stroke-linecap="butt"/>
<line x1="59.80" y1="623.75" x2="64.20" y2="623.75" stroke="#2f4a7c" stroke-width="1.1" stroke-linecap="butt"/>
<line x1="59.80" y1="631.25" x2="64.20" y2="631.25" stroke="#2f4a7c" stroke-width="1.1" stroke-linecap="butt"/>
<line x1="105.00" y1="623.75" x2="105.00" y2="630.00" stroke="#2f4a7c" stroke-width="1.1" stroke-linecap="butt"/>
<line x1="102.80" y1="623.75" x2="107.20" y2="623.75" stroke="#2f4a7c" stroke-width="1.1" stroke-linecap="butt"/>
<line x1="102.80" y1="630.00" x2="107.20" y2="630.00" stroke="#2f4a7c" stroke-width="1.1" stroke-linecap="butt"/>
<path d="M62.00,627.50 L83.75,633.00 L105.00,627.00" fill="none" stroke="#2f4a7c" stroke-width="1.35" stroke-linejoin="round"/>
<circle cx="62.00" cy="627.50" r="2.2" fill="#2f4a7c"/>
<circle cx="83.75" cy="633.00" r="2.2" fill="#2f4a7c"/>
<circle cx="105.00" cy="627.00" r="2.2" fill="#2f4a7c"/>
<text x="86.00" y="569.03" font-size="5.6" text-anchor="start" fill="#1a1a1a" textLength="24.00" lengthAdjust="spacingAndGlyphs" stroke="none">p&lt;0.0001</text>
<line x1="62.00" y1="600.00" x2="76.00" y2="600.00" stroke="#2f4a7c" stroke-width="1.15" stroke-linecap="butt"/>
<circle cx="69.00" cy="600.00" r="2.0" fill="#2f4a7c"/>
<text transform="translate(79.14,602.20) scale(0.922,1)" font-size="5.38" font-style="italic" fill="#1a1a1a" stroke="#1a1a1a" stroke-width="0.12">oWT</text>
<line x1="62.00" y1="609.50" x2="76.00" y2="609.50" stroke="#a5002b" stroke-width="1.15" stroke-linecap="butt"/>
<path d="M67.00,611.10 L71.00,611.10 L69.00,607.50 Z" fill="#a5002b"/>
<text transform="translate(79.13,610.90) scale(0.980,1)" font-size="5.44" font-style="italic" fill="#1a1a1a" stroke="#1a1a1a" stroke-width="0.12">oIL27Ra</text>
<text transform="translate(100.02,607.30) scale(0.585,1)" font-size="2.92" fill="#1a1a1a" stroke="#1a1a1a" stroke-width="0.10">−/−</text>
<text x="55.00" y="665.04" font-size="8.8" fill="#1a1a1a" stroke="#1a1a1a" stroke-width="0.15" textLength="57.70" lengthAdjust="spacingAndGlyphs">Months after 2<tspan font-size="6.16" dy="-3.0">nd</tspan><tspan dy="3.0"> Tx</tspan></text>
<text transform="translate(29.91,634.70) rotate(-90)" font-size="9.6" text-anchor="start" fill="#1a1a1a" textLength="56.40" lengthAdjust="spacingAndGlyphs" stroke="#1a1a1a" stroke-width="0.15">Donor derived (%)</text>
<line x1="142.50" y1="640.95" x2="142.50" y2="573.50" stroke="#1a1a1a" stroke-width="1.4" stroke-linecap="butt"/>
<line x1="139.90" y1="640.25" x2="142.50" y2="640.25" stroke="#1a1a1a" stroke-width="1.2" stroke-linecap="butt"/>
<text x="136.50" y="642.75" font-size="7" text-anchor="end" fill="#1a1a1a">0</text>
<line x1="139.90" y1="627.40" x2="142.50" y2="627.40" stroke="#1a1a1a" stroke-width="1.2" stroke-linecap="butt"/>
<text x="136.50" y="629.90" font-size="7" text-anchor="end" fill="#1a1a1a">20</text>
<line x1="139.90" y1="614.55" x2="142.50" y2="614.55" stroke="#1a1a1a" stroke-width="1.2" stroke-linecap="butt"/>
<text x="136.50" y="617.05" font-size="7" text-anchor="end" fill="#1a1a1a">40</text>
<line x1="139.90" y1="601.70" x2="142.50" y2="601.70" stroke="#1a1a1a" stroke-width="1.2" stroke-linecap="butt"/>
<text x="136.50" y="604.20" font-size="7" text-anchor="end" fill="#1a1a1a">60</text>
<line x1="139.90" y1="588.85" x2="142.50" y2="588.85" stroke="#1a1a1a" stroke-width="1.2" stroke-linecap="butt"/>
<text x="136.50" y="591.35" font-size="7" text-anchor="end" fill="#1a1a1a">80</text>
<line x1="139.90" y1="576.00" x2="142.50" y2="576.00" stroke="#1a1a1a" stroke-width="1.2" stroke-linecap="butt"/>
<text x="136.50" y="578.50" font-size="7" text-anchor="end" fill="#1a1a1a">100</text>
<line x1="141.80" y1="640.25" x2="206.25" y2="640.25" stroke="#1a1a1a" stroke-width="1.4" stroke-linecap="butt"/>
<line x1="153.00" y1="640.25" x2="153.00" y2="642.85" stroke="#1a1a1a" stroke-width="1.2" stroke-linecap="butt"/>
<text x="153.00" y="652.55" font-size="7" text-anchor="middle" fill="#1a1a1a">1</text>
<line x1="174.25" y1="640.25" x2="174.25" y2="642.85" stroke="#1a1a1a" stroke-width="1.2" stroke-linecap="butt"/>
<text x="174.25" y="652.55" font-size="7" text-anchor="middle" fill="#1a1a1a">2</text>
<line x1="195.75" y1="640.25" x2="195.75" y2="642.85" stroke="#1a1a1a" stroke-width="1.2" stroke-linecap="butt"/>
<text x="195.75" y="652.55" font-size="7" text-anchor="middle" fill="#1a1a1a">3</text>
<path d="M153.00,577.20 L174.25,577.20 L195.75,577.20" fill="none" stroke="#a5002b" stroke-width="1.35" stroke-linejoin="round"/>
<path d="M150.60,579.12 L155.40,579.12 L153.00,574.80 Z" fill="#a5002b"/>
<path d="M171.85,579.12 L176.65,579.12 L174.25,574.80 Z" fill="#a5002b"/>
<path d="M193.35,579.12 L198.15,579.12 L195.75,574.80 Z" fill="#a5002b"/>
<line x1="153.00" y1="624.75" x2="153.00" y2="630.75" stroke="#2f4a7c" stroke-width="1.1" stroke-linecap="butt"/>
<line x1="150.80" y1="624.75" x2="155.20" y2="624.75" stroke="#2f4a7c" stroke-width="1.1" stroke-linecap="butt"/>
<line x1="150.80" y1="630.75" x2="155.20" y2="630.75" stroke="#2f4a7c" stroke-width="1.1" stroke-linecap="butt"/>
<line x1="195.75" y1="626.50" x2="195.75" y2="631.50" stroke="#2f4a7c" stroke-width="1.1" stroke-linecap="butt"/>
<line x1="193.55" y1="626.50" x2="197.95" y2="626.50" stroke="#2f4a7c" stroke-width="1.1" stroke-linecap="butt"/>
<line x1="193.55" y1="631.50" x2="197.95" y2="631.50" stroke="#2f4a7c" stroke-width="1.1" stroke-linecap="butt"/>
<path d="M153.00,627.75 L174.25,635.75 L195.75,629.00" fill="none" stroke="#2f4a7c" stroke-width="1.35" stroke-linejoin="round"/>
<circle cx="153.00" cy="627.75" r="2.2" fill="#2f4a7c"/>
<circle cx="174.25" cy="635.75" r="2.2" fill="#2f4a7c"/>
<circle cx="195.75" cy="629.00" r="2.2" fill="#2f4a7c"/>
<text x="172.00" y="570.03" font-size="5.6" text-anchor="start" fill="#1a1a1a" textLength="24.25" lengthAdjust="spacingAndGlyphs" stroke="none">p&lt;0.0001</text>
<line x1="233.75" y1="640.95" x2="233.75" y2="573.50" stroke="#1a1a1a" stroke-width="1.4" stroke-linecap="butt"/>
<line x1="231.15" y1="640.25" x2="233.75" y2="640.25" stroke="#1a1a1a" stroke-width="1.2" stroke-linecap="butt"/>
<text x="227.75" y="642.75" font-size="7" text-anchor="end" fill="#1a1a1a">0</text>
<line x1="231.15" y1="627.40" x2="233.75" y2="627.40" stroke="#1a1a1a" stroke-width="1.2" stroke-linecap="butt"/>
<text x="227.75" y="629.90" font-size="7" text-anchor="end" fill="#1a1a1a">20</text>
<line x1="231.15" y1="614.55" x2="233.75" y2="614.55" stroke="#1a1a1a" stroke-width="1.2" stroke-linecap="butt"/>
<text x="227.75" y="617.05" font-size="7" text-anchor="end" fill="#1a1a1a">40</text>
<line x1="231.15" y1="601.70" x2="233.75" y2="601.70" stroke="#1a1a1a" stroke-width="1.2" stroke-linecap="butt"/>
<text x="227.75" y="604.20" font-size="7" text-anchor="end" fill="#1a1a1a">60</text>
<line x1="231.15" y1="588.85" x2="233.75" y2="588.85" stroke="#1a1a1a" stroke-width="1.2" stroke-linecap="butt"/>
<text x="227.75" y="591.35" font-size="7" text-anchor="end" fill="#1a1a1a">80</text>
<line x1="231.15" y1="576.00" x2="233.75" y2="576.00" stroke="#1a1a1a" stroke-width="1.2" stroke-linecap="butt"/>
<text x="227.75" y="578.50" font-size="7" text-anchor="end" fill="#1a1a1a">100</text>
<line x1="233.05" y1="640.25" x2="295.00" y2="640.25" stroke="#1a1a1a" stroke-width="1.4" stroke-linecap="butt"/>
<line x1="243.75" y1="640.25" x2="243.75" y2="642.85" stroke="#1a1a1a" stroke-width="1.2" stroke-linecap="butt"/>
<text x="243.75" y="652.55" font-size="7" text-anchor="middle" fill="#1a1a1a">1</text>
<line x1="264.25" y1="640.25" x2="264.25" y2="642.85" stroke="#1a1a1a" stroke-width="1.2" stroke-linecap="butt"/>
<text x="264.25" y="652.55" font-size="7" text-anchor="middle" fill="#1a1a1a">2</text>
<line x1="285.00" y1="640.25" x2="285.00" y2="642.85" stroke="#1a1a1a" stroke-width="1.2" stroke-linecap="butt"/>
<text x="285.00" y="652.55" font-size="7" text-anchor="middle" fill="#1a1a1a">3</text>
<line x1="243.75" y1="579.00" x2="243.75" y2="589.00" stroke="#a5002b" stroke-width="1.1" stroke-linecap="butt"/>
<line x1="241.55" y1="579.00" x2="245.95" y2="579.00" stroke="#a5002b" stroke-width="1.1" stroke-linecap="butt"/>
<line x1="241.55" y1="589.00" x2="245.95" y2="589.00" stroke="#a5002b" stroke-width="1.1" stroke-linecap="butt"/>
<path d="M243.75,584.00 L264.25,578.25 L285.00,577.50" fill="none" stroke="#a5002b" stroke-width="1.35" stroke-linejoin="round"/>
<path d="M241.35,585.92 L246.15,585.92 L243.75,581.60 Z" fill="#a5002b"/>
<path d="M261.85,580.17 L266.65,580.17 L264.25,575.85 Z" fill="#a5002b"/>
<path d="M282.60,579.42 L287.40,579.42 L285.00,575.10 Z" fill="#a5002b"/>
<line x1="243.75" y1="606.50" x2="243.75" y2="624.00" stroke="#2f4a7c" stroke-width="1.1" stroke-linecap="butt"/>
<line x1="241.55" y1="606.50" x2="245.95" y2="606.50" stroke="#2f4a7c" stroke-width="1.1" stroke-linecap="butt"/>
<line x1="241.55" y1="624.00" x2="245.95" y2="624.00" stroke="#2f4a7c" stroke-width="1.1" stroke-linecap="butt"/>
<line x1="264.25" y1="610.75" x2="264.25" y2="621.50" stroke="#2f4a7c" stroke-width="1.1" stroke-linecap="butt"/>
<line x1="262.05" y1="610.75" x2="266.45" y2="610.75" stroke="#2f4a7c" stroke-width="1.1" stroke-linecap="butt"/>
<line x1="262.05" y1="621.50" x2="266.45" y2="621.50" stroke="#2f4a7c" stroke-width="1.1" stroke-linecap="butt"/>
<line x1="285.00" y1="609.75" x2="285.00" y2="618.50" stroke="#2f4a7c" stroke-width="1.1" stroke-linecap="butt"/>
<line x1="282.80" y1="609.75" x2="287.20" y2="609.75" stroke="#2f4a7c" stroke-width="1.1" stroke-linecap="butt"/>
<line x1="282.80" y1="618.50" x2="287.20" y2="618.50" stroke="#2f4a7c" stroke-width="1.1" stroke-linecap="butt"/>
<path d="M243.75,615.25 L264.25,616.50 L285.00,614.00" fill="none" stroke="#2f4a7c" stroke-width="1.35" stroke-linejoin="round"/>
<circle cx="243.75" cy="615.25" r="2.2" fill="#2f4a7c"/>
<circle cx="264.25" cy="616.50" r="2.2" fill="#2f4a7c"/>
<circle cx="285.00" cy="614.00" r="2.2" fill="#2f4a7c"/>
<text x="261.00" y="570.03" font-size="5.6" text-anchor="start" fill="#1a1a1a" textLength="24.00" lengthAdjust="spacingAndGlyphs" stroke="none">p=0.0001</text>
<line x1="322.70" y1="640.95" x2="322.70" y2="573.50" stroke="#1a1a1a" stroke-width="1.4" stroke-linecap="butt"/>
<line x1="320.10" y1="640.25" x2="322.70" y2="640.25" stroke="#1a1a1a" stroke-width="1.2" stroke-linecap="butt"/>
<text x="316.70" y="642.75" font-size="7" text-anchor="end" fill="#1a1a1a">0</text>
<line x1="320.10" y1="627.40" x2="322.70" y2="627.40" stroke="#1a1a1a" stroke-width="1.2" stroke-linecap="butt"/>
<text x="316.70" y="629.90" font-size="7" text-anchor="end" fill="#1a1a1a">20</text>
<line x1="320.10" y1="614.55" x2="322.70" y2="614.55" stroke="#1a1a1a" stroke-width="1.2" stroke-linecap="butt"/>
<text x="316.70" y="617.05" font-size="7" text-anchor="end" fill="#1a1a1a">40</text>
<line x1="320.10" y1="601.70" x2="322.70" y2="601.70" stroke="#1a1a1a" stroke-width="1.2" stroke-linecap="butt"/>
<text x="316.70" y="604.20" font-size="7" text-anchor="end" fill="#1a1a1a">60</text>
<line x1="320.10" y1="588.85" x2="322.70" y2="588.85" stroke="#1a1a1a" stroke-width="1.2" stroke-linecap="butt"/>
<text x="316.70" y="591.35" font-size="7" text-anchor="end" fill="#1a1a1a">80</text>
<line x1="320.10" y1="576.00" x2="322.70" y2="576.00" stroke="#1a1a1a" stroke-width="1.2" stroke-linecap="butt"/>
<text x="316.70" y="578.50" font-size="7" text-anchor="end" fill="#1a1a1a">100</text>
<line x1="322.00" y1="640.25" x2="384.00" y2="640.25" stroke="#1a1a1a" stroke-width="1.4" stroke-linecap="butt"/>
<line x1="332.60" y1="640.25" x2="332.60" y2="642.85" stroke="#1a1a1a" stroke-width="1.2" stroke-linecap="butt"/>
<text x="332.60" y="652.55" font-size="7" text-anchor="middle" fill="#1a1a1a">1</text>
<line x1="353.20" y1="640.25" x2="353.20" y2="642.85" stroke="#1a1a1a" stroke-width="1.2" stroke-linecap="butt"/>
<text x="353.20" y="652.55" font-size="7" text-anchor="middle" fill="#1a1a1a">2</text>
<line x1="373.80" y1="640.25" x2="373.80" y2="642.85" stroke="#1a1a1a" stroke-width="1.2" stroke-linecap="butt"/>
<text x="373.80" y="652.55" font-size="7" text-anchor="middle" fill="#1a1a1a">3</text>
<line x1="332.60" y1="588.25" x2="332.60" y2="602.00" stroke="#a5002b" stroke-width="1.1" stroke-linecap="butt"/>
<line x1="330.40" y1="588.25" x2="334.80" y2="588.25" stroke="#a5002b" stroke-width="1.1" stroke-linecap="butt"/>
<line x1="330.40" y1="602.00" x2="334.80" y2="602.00" stroke="#a5002b" stroke-width="1.1" stroke-linecap="butt"/>
<line x1="353.20" y1="581.00" x2="353.20" y2="585.25" stroke="#a5002b" stroke-width="1.1" stroke-linecap="butt"/>
<line x1="351.00" y1="581.00" x2="355.40" y2="581.00" stroke="#a5002b" stroke-width="1.1" stroke-linecap="butt"/>
<line x1="351.00" y1="585.25" x2="355.40" y2="585.25" stroke="#a5002b" stroke-width="1.1" stroke-linecap="butt"/>
<path d="M332.60,595.25 L353.20,583.25 L373.80,579.75" fill="none" stroke="#a5002b" stroke-width="1.35" stroke-linejoin="round"/>
<path d="M330.20,597.17 L335.00,597.17 L332.60,592.85 Z" fill="#a5002b"/>
<path d="M350.80,585.17 L355.60,585.17 L353.20,580.85 Z" fill="#a5002b"/>
<path d="M371.40,581.67 L376.20,581.67 L373.80,577.35 Z" fill="#a5002b"/>
<line x1="332.60" y1="615.75" x2="332.60" y2="627.00" stroke="#2f4a7c" stroke-width="1.1" stroke-linecap="butt"/>
<line x1="330.40" y1="615.75" x2="334.80" y2="615.75" stroke="#2f4a7c" stroke-width="1.1" stroke-linecap="butt"/>
<line x1="330.40" y1="627.00" x2="334.80" y2="627.00" stroke="#2f4a7c" stroke-width="1.1" stroke-linecap="butt"/>
<line x1="353.20" y1="616.50" x2="353.20" y2="627.75" stroke="#2f4a7c" stroke-width="1.1" stroke-linecap="butt"/>
<line x1="351.00" y1="616.50" x2="355.40" y2="616.50" stroke="#2f4a7c" stroke-width="1.1" stroke-linecap="butt"/>
<line x1="351.00" y1="627.75" x2="355.40" y2="627.75" stroke="#2f4a7c" stroke-width="1.1" stroke-linecap="butt"/>
<line x1="373.80" y1="619.75" x2="373.80" y2="628.50" stroke="#2f4a7c" stroke-width="1.1" stroke-linecap="butt"/>
<line x1="371.60" y1="619.75" x2="376.00" y2="619.75" stroke="#2f4a7c" stroke-width="1.1" stroke-linecap="butt"/>
<line x1="371.60" y1="628.50" x2="376.00" y2="628.50" stroke="#2f4a7c" stroke-width="1.1" stroke-linecap="butt"/>
<path d="M332.60,621.50 L353.20,622.00 L373.80,624.50" fill="none" stroke="#2f4a7c" stroke-width="1.35" stroke-linejoin="round"/>
<circle cx="332.60" cy="621.50" r="2.2" fill="#2f4a7c"/>
<circle cx="353.20" cy="622.00" r="2.2" fill="#2f4a7c"/>
<circle cx="373.80" cy="624.50" r="2.2" fill="#2f4a7c"/>
<text x="353.75" y="570.53" font-size="5.6" text-anchor="start" fill="#1a1a1a" textLength="24.25" lengthAdjust="spacingAndGlyphs" stroke="none">p&lt;0.0001</text>
<line x1="442.70" y1="640.95" x2="442.70" y2="572.80" stroke="#1a1a1a" stroke-width="1.4" stroke-linecap="butt"/>
<line x1="440.10" y1="640.25" x2="442.70" y2="640.25" stroke="#1a1a1a" stroke-width="1.2" stroke-linecap="butt"/>
<text x="436.70" y="642.75" font-size="7" text-anchor="end" fill="#1a1a1a">0</text>
<line x1="440.10" y1="627.44" x2="442.70" y2="627.44" stroke="#1a1a1a" stroke-width="1.2" stroke-linecap="butt"/>
<text x="436.70" y="629.94" font-size="7" text-anchor="end" fill="#1a1a1a">20</text>
<line x1="440.10" y1="614.63" x2="442.70" y2="614.63" stroke="#1a1a1a" stroke-width="1.2" stroke-linecap="butt"/>
<text x="436.70" y="617.13" font-size="7" text-anchor="end" fill="#1a1a1a">40</text>
<line x1="440.10" y1="601.82" x2="442.70" y2="601.82" stroke="#1a1a1a" stroke-width="1.2" stroke-linecap="butt"/>
<text x="436.70" y="604.32" font-size="7" text-anchor="end" fill="#1a1a1a">60</text>
<line x1="440.10" y1="589.01" x2="442.70" y2="589.01" stroke="#1a1a1a" stroke-width="1.2" stroke-linecap="butt"/>
<text x="436.70" y="591.51" font-size="7" text-anchor="end" fill="#1a1a1a">80</text>
<line x1="440.10" y1="576.20" x2="442.70" y2="576.20" stroke="#1a1a1a" stroke-width="1.2" stroke-linecap="butt"/>
<text x="436.70" y="578.70" font-size="7" text-anchor="end" fill="#1a1a1a">100</text>
<line x1="449.30" y1="635.40" x2="449.30" y2="637.50" stroke="#1a1a1a" stroke-width="0.9" stroke-linecap="butt"/>
<line x1="447.50" y1="635.40" x2="451.10" y2="635.40" stroke="#1a1a1a" stroke-width="0.9" stroke-linecap="butt"/>
<rect x="445.80" y="637.50" width="7.00" height="2.75" fill="#2f4a7c"/>
<line x1="456.45" y1="617.60" x2="456.45" y2="621.20" stroke="#1a1a1a" stroke-width="0.9" stroke-linecap="butt"/>
<line x1="454.65" y1="617.60" x2="458.25" y2="617.60" stroke="#1a1a1a" stroke-width="0.9" stroke-linecap="butt"/>
<rect x="452.80" y="621.20" width="7.30" height="19.05" fill="#a5002b"/>
<line x1="470.60" y1="626.30" x2="470.60" y2="629.10" stroke="#1a1a1a" stroke-width="0.9" stroke-linecap="butt"/>
<line x1="468.80" y1="626.30" x2="472.40" y2="626.30" stroke="#1a1a1a" stroke-width="0.9" stroke-linecap="butt"/>
<rect x="467.00" y="629.10" width="7.20" height="11.15" fill="#2f4a7c"/>
<line x1="477.90" y1="629.40" x2="477.90" y2="631.10" stroke="#1a1a1a" stroke-width="0.9" stroke-linecap="butt"/>
<line x1="476.10" y1="629.40" x2="479.70" y2="629.40" stroke="#1a1a1a" stroke-width="0.9" stroke-linecap="butt"/>
<rect x="474.20" y="631.10" width="7.40" height="9.15" fill="#a5002b"/>
<line x1="492.30" y1="587.40" x2="492.30" y2="591.60" stroke="#1a1a1a" stroke-width="0.9" stroke-linecap="butt"/>
<line x1="490.50" y1="587.40" x2="494.10" y2="587.40" stroke="#1a1a1a" stroke-width="0.9" stroke-linecap="butt"/>
<rect x="488.80" y="591.60" width="7.00" height="48.65" fill="#2f4a7c"/>
<line x1="499.50" y1="601.00" x2="499.50" y2="605.30" stroke="#1a1a1a" stroke-width="0.9" stroke-linecap="butt"/>
<line x1="497.70" y1="601.00" x2="501.30" y2="601.00" stroke="#1a1a1a" stroke-width="0.9" stroke-linecap="butt"/>
<rect x="495.80" y="605.30" width="7.40" height="34.95" fill="#a5002b"/>
<line x1="442.00" y1="640.25" x2="507.00" y2="640.25" stroke="#1a1a1a" stroke-width="1.4" stroke-linecap="butt"/>
<line x1="452.80" y1="640.25" x2="452.80" y2="642.85" stroke="#1a1a1a" stroke-width="1.2" stroke-linecap="butt"/>
<line x1="474.20" y1="640.25" x2="474.20" y2="642.85" stroke="#1a1a1a" stroke-width="1.2" stroke-linecap="butt"/>
<line x1="495.70" y1="640.25" x2="495.70" y2="642.85" stroke="#1a1a1a" stroke-width="1.2" stroke-linecap="butt"/>
<text x="453.00" y="652.30" font-size="7" text-anchor="middle" fill="#1a1a1a">B</text>
<text x="474.50" y="652.30" font-size="7" text-anchor="middle" fill="#1a1a1a">T</text>
<text x="483.60" y="652.30" font-size="7" text-anchor="start" fill="#1a1a1a" textLength="24.00" lengthAdjust="spacingAndGlyphs">Myeloid</text>
<text x="447.00" y="615.73" font-size="5.6" text-anchor="start" fill="#1a1a1a" textLength="24.40" lengthAdjust="spacingAndGlyphs" stroke="none">p=0.0059</text>
<text x="486.00" y="585.03" font-size="5.6" text-anchor="start" fill="#1a1a1a" textLength="23.40" lengthAdjust="spacingAndGlyphs" stroke="none">p=0.0494</text>
<line x1="444.80" y1="564.20" x2="459.00" y2="564.20" stroke="#2f4a7c" stroke-width="2.5" stroke-linecap="butt"/>
<line x1="444.80" y1="571.80" x2="459.00" y2="571.80" stroke="#a5002b" stroke-width="2.5" stroke-linecap="butt"/>
<text transform="translate(462.03,566.20) scale(0.984,1)" font-size="5.23" font-style="italic" fill="#1a1a1a" stroke="#1a1a1a" stroke-width="0.12">oWT</text>
<text transform="translate(462.03,573.90) scale(0.970,1)" font-size="5.44" font-style="italic" fill="#1a1a1a" stroke="#1a1a1a" stroke-width="0.12">oIL27Ra</text>
<text transform="translate(482.71,570.30) scale(0.636,1)" font-size="2.92" fill="#1a1a1a" stroke="#1a1a1a" stroke-width="0.10">−/−</text>
<text transform="translate(420.91,643.40) rotate(-90)" font-size="9.6" text-anchor="start" fill="#1a1a1a" textLength="74.10" lengthAdjust="spacingAndGlyphs" stroke="#1a1a1a" stroke-width="0.15">Lineage distribution (%)</text>
<rect x="0.5" y="0.5" width="519" height="673" fill="none" stroke="#000" stroke-width="1"/>
</svg>
</body></html>
